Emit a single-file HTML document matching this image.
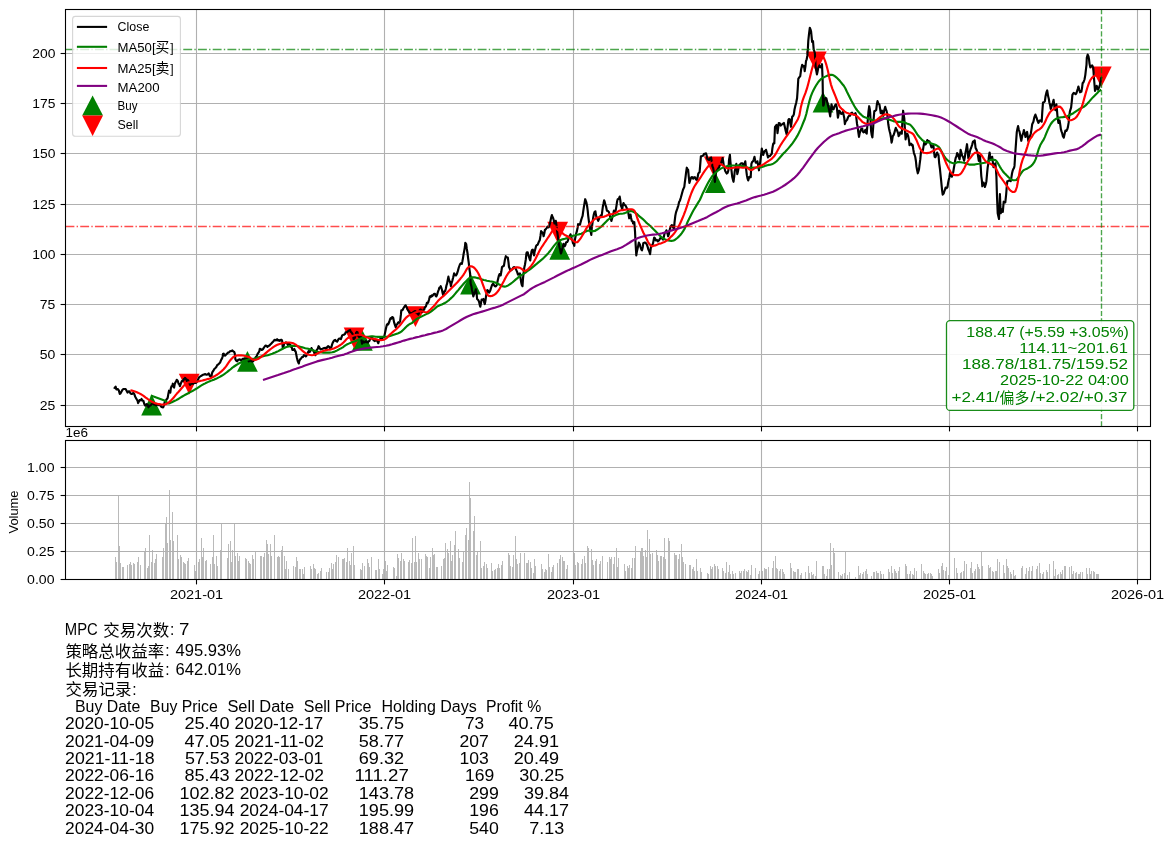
<!DOCTYPE html>
<html><head><meta charset="utf-8"><title>MPC</title><style>html,body{margin:0;padding:0;background:#fff}svg{display:block;will-change:transform;opacity:0.9999}</style></head><body>
<svg width="1174" height="846" viewBox="0 0 1174 846" font-family="'Liberation Sans', sans-serif">
<rect width="1174" height="846" fill="#fff"/>
<defs>
<clipPath id="c1"><rect x="65.5" y="9.5" width="1085.0" height="417.0"/></clipPath>
</defs>
<g stroke="#b0b0b0" stroke-width="1.1" fill="none">
<line x1="196.50" y1="9.5" x2="196.50" y2="426.5"/>
<line x1="384.50" y1="9.5" x2="384.50" y2="426.5"/>
<line x1="573.50" y1="9.5" x2="573.50" y2="426.5"/>
<line x1="761.50" y1="9.5" x2="761.50" y2="426.5"/>
<line x1="949.50" y1="9.5" x2="949.50" y2="426.5"/>
<line x1="1137.50" y1="9.5" x2="1137.50" y2="426.5"/>
<line x1="65.5" y1="405.50" x2="1150.5" y2="405.50"/>
<line x1="65.5" y1="354.50" x2="1150.5" y2="354.50"/>
<line x1="65.5" y1="304.50" x2="1150.5" y2="304.50"/>
<line x1="65.5" y1="254.50" x2="1150.5" y2="254.50"/>
<line x1="65.5" y1="204.50" x2="1150.5" y2="204.50"/>
<line x1="65.5" y1="153.50" x2="1150.5" y2="153.50"/>
<line x1="65.5" y1="103.50" x2="1150.5" y2="103.50"/>
<line x1="65.5" y1="53.50" x2="1150.5" y2="53.50"/>
</g>
<g clip-path="url(#c1)">
<polygon points="151.58,394.59 141.18,415.39 161.98,415.39" fill="#008000"/>
<polygon points="247.43,351.03 237.03,371.83 257.83,371.83" fill="#008000"/>
<polygon points="362.34,329.95 351.94,350.75 372.74,350.75" fill="#008000"/>
<polygon points="470.55,273.82 460.15,294.62 480.95,294.62" fill="#008000"/>
<polygon points="559.70,238.84 549.30,259.64 570.10,259.64" fill="#008000"/>
<polygon points="715.32,172.21 704.92,193.01 725.72,193.01" fill="#008000"/>
<polygon points="823.02,91.77 812.62,112.57 833.42,112.57" fill="#008000"/>
<polygon points="189.20,394.57 178.80,373.77 199.60,373.77" fill="#ff0000"/>
<polygon points="354.10,348.26 343.70,327.46 364.50,327.46" fill="#ff0000"/>
<polygon points="415.42,327.03 405.02,306.23 425.82,306.23" fill="#ff0000"/>
<polygon points="557.64,242.64 547.24,221.84 568.04,221.84" fill="#ff0000"/>
<polygon points="714.29,177.23 703.89,156.43 724.69,156.43" fill="#ff0000"/>
<polygon points="816.32,72.20 805.92,51.40 826.72,51.40" fill="#ff0000"/>
<polygon points="1101.28,87.33 1090.88,66.53 1111.68,66.53" fill="#ff0000"/>
<g fill="none" stroke-width="2.15" stroke-linejoin="round">
<polyline stroke="#000" points="114.1,388.8 114.7,387.8 115.6,386.6 116.4,389.4 117.1,389.4 117.9,389.0 118.9,390.6 119.8,393.9 120.6,393.3 121.7,391.3 122.6,389.6 123.6,389.0 124.7,389.0 125.6,389.0 126.6,390.8 127.5,392.6 128.5,391.3 129.4,391.3 130.4,393.3 131.3,393.9 132.3,393.9 133.2,392.9 134.2,393.8 135.1,396.4 136.2,398.4 137.1,400.0 137.5,400.6 138.1,403.1 138.9,401.5 139.6,400.0 140.6,400.3 141.5,399.0 142.5,400.8 143.4,400.9 144.2,403.7 145.0,405.4 145.8,405.6 146.6,404.1 147.7,404.9 148.5,407.3 149.4,405.8 150.5,405.4 151.6,404.3 152.4,403.5 153.4,403.7 154.3,404.7 155.3,404.8 156.2,405.4 157.1,404.9 158.1,404.1 159.1,405.2 160.0,404.7 161.4,406.9 162.6,407.3 163.3,407.3 163.9,405.4 164.6,402.5 165.2,400.9 165.9,401.2 166.4,399.6 167.2,398.8 167.7,397.7 168.4,393.6 169.0,390.7 169.7,391.8 170.3,392.6 170.8,388.5 171.5,386.2 172.3,385.9 172.8,383.7 173.3,386.2 174.1,387.5 174.7,384.2 175.4,382.4 176.0,381.6 176.7,379.8 177.7,380.8 178.6,383.7 179.2,384.0 179.9,386.2 180.9,383.3 181.8,381.1 182.8,381.1 183.7,379.2 184.3,379.5 185.0,377.9 185.9,378.7 186.9,381.1 187.5,379.8 188.2,380.5 189.0,382.5 190.1,384.9 191.1,383.6 192.0,383.7 193.1,383.8 194.5,382.4 195.8,383.0 197.1,381.7 198.2,379.3 199.0,377.3 200.0,376.7 200.9,376.0 201.9,375.5 202.8,374.7 203.8,374.6 204.8,374.1 205.9,374.4 206.7,374.7 207.6,374.5 208.6,373.4 209.2,374.3 209.9,376.0 210.8,376.7 211.4,377.3 211.9,373.7 212.4,372.2 213.4,370.7 214.3,369.0 215.2,368.2 216.3,367.1 217.3,364.9 218.2,364.5 219.2,363.5 220.1,362.6 220.8,360.7 221.4,359.4 222.1,358.3 222.7,356.2 223.0,354.0 223.7,353.6 224.5,355.5 225.2,355.6 226.1,354.5 227.1,353.6 228.1,352.6 229.0,352.4 230.0,351.3 231.0,351.1 231.6,351.0 232.2,350.4 232.8,350.8 233.5,351.7 234.2,351.7 234.8,353.6 235.4,359.4 236.4,360.8 237.3,361.3 238.2,359.8 239.3,359.4 240.3,359.5 241.2,360.7 242.0,359.6 243.1,358.7 244.1,358.6 245.0,360.0 245.9,359.1 246.9,358.7 248.0,359.9 248.8,361.3 249.5,360.3 250.0,360.7 250.2,360.0 251.4,361.1 252.8,361.5 253.8,360.5 254.7,359.6 255.6,357.3 256.6,356.4 257.6,353.9 258.5,352.6 259.3,351.4 259.8,348.8 260.7,349.0 261.7,350.0 262.8,349.4 263.6,348.1 264.7,346.5 265.6,345.6 266.4,345.8 267.5,346.9 268.5,345.8 269.4,345.6 270.3,344.5 271.3,343.7 272.2,342.5 273.2,341.7 274.3,340.1 275.1,339.8 275.9,340.4 277.1,339.2 278.1,340.6 279.0,340.1 279.9,340.9 280.9,339.8 281.7,339.9 282.2,341.1 282.8,348.1 283.5,346.6 284.1,343.7 285.1,343.1 286.0,342.4 286.9,343.3 287.9,344.9 288.8,343.8 289.8,344.3 290.5,345.2 291.1,346.9 291.8,347.5 292.4,350.0 293.5,349.9 294.3,349.0 295.1,351.0 295.6,351.3 296.3,354.7 296.9,357.7 297.7,361.1 298.8,363.5 299.3,361.1 300.0,359.6 301.1,358.4 302.0,357.1 302.9,357.0 303.9,355.2 304.9,355.5 305.8,356.4 306.4,355.9 307.1,353.9 307.7,353.2 308.4,351.3 308.9,351.0 309.6,352.0 310.6,350.7 311.5,348.1 312.4,350.0 313.5,350.7 314.5,353.5 315.4,355.2 316.1,351.6 316.7,350.0 317.7,348.9 318.6,346.2 319.4,347.4 320.5,349.4 321.4,349.1 322.4,348.8 323.3,348.4 324.3,348.1 325.4,347.8 326.2,349.4 327.1,347.1 328.2,346.2 329.0,346.6 330.1,348.8 331.2,347.6 332.0,344.9 332.5,343.3 333.3,341.7 334.2,340.4 335.2,339.8 336.1,341.1 337.1,341.7 338.1,339.9 339.0,338.5 339.9,338.5 340.9,339.2 341.5,337.4 342.2,335.4 343.2,334.8 344.1,334.7 345.1,333.9 345.6,332.4 346.4,332.2 347.0,332.2 347.7,331.7 348.4,330.9 348.9,330.5 349.6,330.4 350.1,329.9 350.6,331.7 351.3,332.1 351.9,333.0 352.8,334.3 353.6,339.0 354.3,338.7 354.9,337.7 355.5,335.5 356.2,332.6 356.8,331.9 357.5,332.2 358.3,336.0 359.0,337.0 359.6,337.3 360.1,336.7 360.9,336.4 361.5,340.8 362.1,343.7 362.9,342.3 363.4,341.5 364.2,342.5 364.7,342.4 365.3,341.7 366.0,341.1 366.5,342.2 367.3,342.0 367.9,342.5 368.5,341.5 369.3,341.0 369.8,339.8 370.5,338.9 371.1,337.7 371.6,338.1 372.4,338.1 372.9,338.5 373.6,340.3 374.4,339.8 374.9,341.1 375.4,339.9 376.2,340.3 377.0,340.3 377.5,341.5 378.3,343.2 379.2,340.3 379.7,340.1 380.5,338.6 381.0,338.8 381.7,337.7 382.4,338.2 383.0,337.3 383.8,337.0 384.3,336.4 385.1,332.6 386.0,328.3 386.8,324.9 387.6,323.8 388.1,324.5 388.8,323.0 389.4,321.5 390.1,319.0 390.7,318.1 391.4,318.6 392.0,317.3 392.5,317.1 393.2,317.7 394.1,322.4 394.9,324.9 395.8,327.5 396.6,324.5 397.3,324.3 397.9,322.8 398.5,322.2 399.2,322.8 400.1,321.5 400.9,314.7 401.3,310.4 401.9,310.5 402.6,310.0 403.3,308.5 403.9,307.5 404.7,306.2 405.6,305.3 406.2,306.4 406.9,307.9 407.4,309.2 408.1,310.4 408.9,311.3 409.4,312.6 410.1,312.5 410.7,313.9 411.4,313.9 412.0,313.0 412.7,312.6 413.3,312.1 413.9,312.0 414.5,311.3 415.3,311.0 415.8,312.1 416.3,313.1 417.1,313.0 417.9,313.9 418.4,314.7 419.0,313.0 419.6,310.4 420.2,309.6 420.9,309.6 421.5,311.0 422.2,312.1 422.8,310.5 423.5,310.0 424.2,309.6 424.8,307.5 425.3,307.2 426.0,306.2 426.9,302.8 427.5,303.3 428.2,302.4 429.0,299.8 429.9,296.4 430.5,296.1 431.1,296.8 431.7,295.4 432.4,296.0 433.1,294.9 433.7,294.3 434.2,293.8 435.0,293.8 435.6,295.7 436.3,296.4 437.1,294.8 438.1,291.3 438.8,289.6 439.4,287.5 440.0,287.5 440.7,286.2 441.4,288.2 442.0,290.0 442.6,293.0 443.2,295.2 444.0,293.0 444.5,291.3 445.2,291.0 445.8,288.8 446.4,285.7 447.1,283.7 447.6,280.6 448.4,276.6 449.0,279.8 449.6,281.1 450.4,283.1 450.9,286.2 451.5,283.2 452.2,281.1 453.1,277.7 454.1,273.4 455.2,275.2 456.0,275.4 456.9,273.9 457.9,270.9 458.8,267.5 459.9,264.5 460.9,263.3 461.8,263.9 462.3,261.7 463.0,258.1 463.6,254.0 464.3,250.4 464.9,247.0 465.3,242.8 466.2,244.1 466.7,248.2 467.5,253.0 468.1,258.1 468.8,263.2 469.3,268.5 470.1,273.4 470.7,283.7 471.5,286.6 472.0,290.0 472.6,292.5 473.3,296.4 473.8,294.9 474.5,292.6 475.1,291.8 475.8,289.4 476.6,293.4 477.1,299.0 478.2,300.0 479.0,301.5 479.7,304.6 480.3,306.7 480.9,303.5 481.6,299.6 482.6,299.9 483.5,299.0 484.1,302.1 484.8,304.1 485.5,300.6 486.0,296.4 486.7,292.5 487.3,290.0 488.3,291.0 489.2,292.6 490.3,290.4 491.2,287.5 492.1,284.9 493.1,283.7 494.1,285.2 495.0,286.2 495.8,286.4 496.9,284.9 497.6,281.0 498.2,278.5 498.9,275.6 499.5,274.1 500.0,275.2 500.7,275.4 501.4,271.3 502.0,267.1 503.0,266.3 503.9,265.8 504.8,260.3 505.8,256.2 506.7,257.3 507.8,257.5 508.5,262.3 509.0,267.1 509.8,268.7 510.3,270.9 511.2,270.0 512.2,269.6 513.3,267.4 514.2,267.1 515.1,267.8 516.1,269.6 517.1,271.9 518.0,274.7 518.9,273.9 519.9,273.4 520.6,278.5 521.2,282.4 521.8,285.0 522.5,286.2 523.0,278.7 523.7,272.2 524.3,267.6 525.0,264.5 525.8,259.4 526.4,253.5 526.9,252.2 527.7,252.2 528.3,254.9 528.9,256.7 529.7,259.1 530.2,260.5 530.9,255.3 531.5,251.5 532.1,250.0 532.8,249.6 533.4,252.6 534.1,255.4 534.6,251.7 535.3,249.0 536.1,246.1 536.6,245.2 537.7,244.7 538.5,242.6 539.3,241.1 539.8,240.0 540.5,235.7 541.1,231.1 541.8,232.7 542.4,232.4 543.1,233.9 543.6,236.2 544.4,233.0 544.9,229.8 545.6,229.6 546.2,228.5 546.7,228.1 547.5,226.6 548.2,226.9 548.7,227.3 549.4,225.3 550.0,223.4 550.6,220.3 551.3,217.1 551.9,215.1 552.4,216.7 553.2,218.3 553.9,220.8 554.5,223.4 555.2,223.1 555.8,220.9 556.5,225.3 557.1,231.1 557.8,235.8 558.3,240.0 558.8,243.6 559.6,247.7 560.2,249.7 560.9,253.5 561.5,252.1 562.2,249.0 562.7,247.2 563.4,243.9 564.1,244.4 564.7,246.4 565.5,244.7 566.0,242.6 567.1,242.1 567.9,240.7 568.6,238.1 569.2,236.2 569.9,236.1 570.5,234.3 571.2,236.4 571.7,238.8 572.5,241.0 573.0,243.2 573.5,243.6 574.3,245.8 574.8,240.4 575.6,236.2 576.1,233.7 576.9,231.1 577.6,227.7 578.1,224.1 579.1,224.7 580.0,224.7 580.6,222.1 581.3,219.6 582.0,217.5 582.6,215.8 583.1,212.1 583.9,206.8 584.6,202.7 585.2,199.2 585.8,200.8 586.4,202.4 587.1,206.0 587.7,210.7 588.2,215.8 589.0,222.2 589.7,225.9 590.3,231.1 590.8,232.4 591.3,234.9 591.8,227.9 592.6,222.2 593.2,217.7 593.8,214.5 594.5,212.1 595.4,211.3 595.9,214.8 596.7,218.3 597.3,218.7 598.2,220.9 599.0,218.8 599.9,217.1 600.9,215.2 601.8,215.1 602.4,210.1 603.0,205.6 603.4,203.9 604.1,200.4 604.6,201.5 605.3,204.3 606.1,206.8 606.9,210.7 607.9,211.0 608.8,211.9 609.3,213.6 610.1,217.1 610.8,218.5 611.4,220.9 612.1,218.3 612.6,215.8 613.4,212.8 613.9,210.7 614.5,211.2 615.2,212.6 615.9,209.3 616.5,205.6 617.1,201.5 617.7,199.2 618.8,198.8 619.7,196.6 620.3,200.1 620.9,205.6 621.4,206.7 622.2,209.4 622.8,205.3 623.5,203.0 624.0,204.3 624.8,204.9 625.8,205.9 626.7,208.1 627.5,209.3 628.0,210.7 628.7,215.3 629.2,218.3 630.0,215.5 630.5,214.5 631.1,217.9 631.8,220.9 632.6,221.3 633.1,223.4 633.6,223.5 634.3,222.2 635.0,231.1 635.6,243.9 636.3,255.4 636.8,252.0 637.5,249.0 638.1,246.2 638.8,242.6 639.9,244.5 640.7,247.7 641.4,249.5 642.0,250.3 642.8,246.9 643.3,243.2 644.4,242.6 645.2,242.6 646.1,243.3 647.1,245.2 647.8,247.4 648.4,249.6 649.2,251.2 650.1,254.1 651.0,246.4 652.0,245.4 652.9,243.9 653.6,240.5 654.2,237.5 655.0,238.3 655.8,240.5 656.9,239.9 657.9,241.3 659.2,240.1 660.4,237.9 661.8,238.0 663.0,239.6 663.8,236.9 664.7,232.8 665.6,232.3 666.4,230.3 667.4,233.1 668.1,236.2 668.9,234.1 669.4,231.1 670.0,228.7 670.7,226.8 671.2,225.8 671.9,225.1 672.7,225.6 673.2,227.7 674.1,228.6 674.5,222.6 675.3,215.8 676.0,212.4 676.6,210.7 677.4,208.4 678.3,205.6 679.1,202.1 680.0,200.4 680.8,197.8 681.7,194.5 683.0,189.7 684.3,186.9 684.8,182.7 685.6,176.7 686.1,172.3 686.8,167.7 687.4,169.2 688.1,169.6 688.8,176.9 689.4,183.0 690.4,179.5 691.3,177.3 692.2,177.1 693.2,178.6 694.3,177.2 695.1,177.3 696.0,179.5 697.1,179.9 697.6,177.4 698.3,173.5 698.8,172.8 699.6,172.2 700.2,164.9 700.9,156.2 701.9,156.2 702.8,155.6 703.5,155.4 704.1,153.7 705.0,153.7 706.0,153.4 706.6,155.3 707.3,158.8 708.3,159.6 709.2,160.0 710.2,158.2 711.1,157.5 711.8,161.9 712.4,166.4 713.1,167.8 713.7,170.9 714.3,176.3 714.9,181.8 715.4,176.8 716.2,171.5 716.9,170.4 717.5,169.6 718.5,168.2 719.4,166.4 720.3,164.2 721.3,162.6 722.1,160.0 722.6,158.1 723.2,161.5 723.9,166.4 724.4,168.0 725.2,170.9 726.1,172.6 726.7,173.5 727.6,172.8 728.4,170.3 729.0,160.0 729.9,154.9 730.4,161.6 730.9,166.4 731.6,171.4 732.2,176.7 733.0,180.0 733.5,181.8 734.2,176.6 734.7,171.5 735.6,167.5 736.3,163.9 736.9,169.8 737.3,174.1 737.9,171.8 738.6,167.7 739.4,165.0 740.5,163.9 741.5,163.2 742.4,163.2 743.1,165.1 743.7,166.4 744.4,164.4 745.3,161.3 746.0,168.2 746.9,175.4 747.5,178.4 748.2,180.5 748.9,178.1 749.4,176.7 750.0,176.6 750.7,177.3 751.4,163.9 752.2,161.8 753.0,161.3 753.7,159.6 754.5,156.9 755.2,160.7 755.8,162.6 756.7,162.7 757.4,161.3 758.1,165.1 759.0,170.3 759.6,165.7 760.3,161.3 761.1,155.0 761.8,148.5 762.5,152.4 763.2,154.9 763.8,152.9 764.5,151.1 765.4,151.1 766.0,149.8 766.9,153.1 768.0,157.5 769.0,155.9 769.9,156.2 770.7,155.0 771.8,153.7 772.4,148.2 773.1,144.1 773.6,143.2 774.3,143.4 775.0,126.8 775.8,125.8 776.5,124.9 777.2,129.6 777.5,133.2 778.3,127.2 778.8,123.0 779.7,123.3 780.7,125.6 781.5,124.6 782.4,124.3 783.0,123.7 783.9,123.0 784.8,126.8 785.8,131.3 786.7,134.5 787.5,127.8 788.4,119.8 789.0,119.0 789.7,119.2 790.2,122.9 791.0,126.8 791.6,122.1 792.2,116.6 793.2,115.9 793.9,114.1 794.5,109.5 795.2,106.4 796.2,102.8 797.1,98.0 797.7,89.1 798.3,78.9 799.3,77.2 800.2,76.3 801.1,69.6 802.2,64.8 803.2,66.3 804.1,66.1 804.7,71.2 805.5,66.0 806.0,61.0 806.7,59.3 807.3,55.9 807.9,48.4 808.3,40.6 809.0,34.2 809.8,27.8 810.4,29.1 811.1,31.6 811.7,37.7 812.1,41.8 813.0,41.2 813.7,49.5 814.3,51.2 814.9,53.3 815.6,66.1 816.2,70.2 816.9,74.4 817.6,71.4 818.1,68.7 818.9,66.4 819.4,65.5 820.0,66.5 820.7,67.4 821.3,66.5 822.0,64.2 822.6,78.9 822.9,98.0 823.2,105.7 823.5,105.6 824.1,103.2 824.5,99.2 825.5,97.9 826.4,98.5 827.1,101.5 827.7,104.3 828.3,106.4 829.0,109.4 829.7,113.7 830.2,116.4 830.8,110.7 831.5,104.3 832.1,106.9 832.8,109.4 833.6,109.3 834.1,107.5 835.1,105.3 836.0,104.3 836.8,107.5 837.3,111.9 837.9,117.7 838.5,114.8 839.2,110.7 840.1,111.8 841.1,113.9 842.2,113.8 843.0,111.9 843.6,114.9 844.3,118.3 844.9,124.1 845.5,121.7 846.2,120.9 847.1,119.9 848.1,117.1 849.0,115.9 850.0,115.8 850.9,113.3 852.0,112.6 852.9,114.0 853.9,114.5 854.7,114.1 855.4,113.2 856.0,114.8 856.4,118.3 857.0,123.7 857.7,127.3 858.2,131.6 859.0,136.9 859.6,133.5 860.3,131.1 861.2,128.9 862.2,128.5 862.7,131.4 863.5,132.4 864.3,131.9 865.4,129.8 865.9,132.7 866.7,133.7 867.3,126.3 867.9,118.3 868.5,111.4 869.2,106.2 869.8,109.1 870.2,113.2 871.1,131.1 871.7,134.9 872.4,137.5 873.2,127.0 873.7,118.3 874.3,111.3 875.4,110.7 876.2,110.0 876.8,104.8 877.5,101.1 878.4,103.7 879.4,104.3 880.0,108.0 880.7,113.2 881.2,111.2 882.0,110.7 882.6,114.0 883.3,115.8 884.1,110.7 885.2,106.8 886.0,109.7 886.5,110.7 887.2,114.0 887.7,118.3 888.3,124.3 889.0,128.5 889.7,131.5 890.3,133.7 890.9,137.2 891.6,142.6 892.2,139.9 892.8,136.2 893.6,135.1 894.1,133.7 894.9,130.9 895.8,127.9 896.5,129.6 897.3,131.1 898.1,133.1 898.6,136.2 899.4,135.2 900.1,132.4 901.1,132.4 901.8,133.7 902.4,120.9 903.1,110.7 903.8,115.2 904.3,118.3 905.0,131.1 905.6,139.4 906.2,136.1 906.9,133.7 907.5,134.0 908.2,136.2 909.0,140.5 909.5,145.2 910.5,143.7 911.4,143.9 911.9,145.3 912.7,145.2 913.4,150.0 913.9,152.8 914.6,154.8 915.2,156.7 915.9,161.0 916.5,166.9 917.1,170.0 917.8,173.3 918.3,171.6 919.0,169.4 919.6,164.3 920.3,159.2 921.0,151.5 921.9,150.5 922.9,150.3 923.5,146.6 924.2,142.6 924.9,144.4 925.4,144.5 926.5,143.0 927.3,140.0 928.2,141.6 929.3,141.3 930.3,143.6 931.5,147.4 932.5,146.9 933.4,145.4 934.0,151.5 934.7,156.9 935.3,157.2 936.0,155.7 936.6,154.0 937.2,152.5 937.9,154.5 938.5,155.0 939.2,163.3 939.9,168.5 940.4,173.5 941.1,180.2 941.7,186.3 942.1,190.3 942.7,194.6 943.6,193.6 944.3,191.4 944.8,190.2 945.6,187.6 946.5,188.2 947.5,187.0 948.1,182.9 948.7,179.9 949.4,177.2 950.0,172.9 951.0,175.6 951.9,176.7 952.6,174.2 953.2,172.3 953.8,168.5 954.5,164.6 955.1,160.8 955.8,157.6 956.5,156.1 957.1,153.1 957.7,153.7 958.3,155.7 958.9,157.3 959.6,159.5 960.2,154.0 960.6,149.9 961.3,152.4 962.2,155.7 963.1,157.3 964.1,160.8 964.7,157.8 965.4,153.1 966.2,149.1 967.0,144.2 967.8,151.9 968.3,158.2 969.2,154.9 969.8,151.8 970.5,149.2 971.1,148.0 972.2,144.6 973.0,141.6 973.8,141.8 974.7,140.3 975.6,148.0 976.5,149.6 977.5,152.5 978.2,156.8 978.8,160.8 979.3,157.3 980.0,155.7 980.6,164.9 981.3,176.1 981.9,180.6 982.3,186.3 982.9,184.2 983.6,182.5 984.3,184.6 984.9,187.0 985.7,184.4 986.4,181.2 987.1,173.4 987.7,167.2 988.4,163.1 988.7,158.2 989.6,152.5 990.1,155.9 990.9,159.5 991.6,159.2 992.2,156.9 992.7,161.1 993.5,167.2 994.4,165.1 995.4,163.3 996.0,170.4 996.4,176.1 997.0,196.5 997.7,213.2 998.3,215.9 999.0,218.9 999.9,194.0 1000.7,213.2 1001.3,212.0 1001.8,209.3 1002.2,210.4 1002.8,211.9 1003.7,201.7 1004.4,202.3 1005.3,202.3 1006.2,194.0 1006.6,188.5 1007.3,181.2 1008.0,181.0 1008.8,180.6 1009.6,180.4 1010.7,181.2 1011.3,178.1 1012.0,173.5 1012.6,170.9 1013.3,169.1 1014.1,167.8 1014.5,165.9 1015.2,154.4 1016.1,141.6 1016.8,131.9 1017.5,128.4 1018.1,126.1 1018.8,129.8 1019.6,131.9 1020.4,136.4 1021.3,140.8 1022.0,137.3 1022.6,134.4 1023.3,133.0 1023.9,130.0 1024.8,134.0 1025.5,137.0 1026.2,133.6 1027.1,131.9 1027.7,136.0 1028.3,140.8 1028.9,139.6 1029.6,137.0 1030.2,135.7 1030.9,133.2 1031.7,127.9 1032.2,124.2 1032.9,122.7 1033.4,121.7 1034.3,117.5 1035.4,114.6 1035.9,116.2 1036.6,117.8 1037.6,121.1 1038.5,122.9 1039.4,120.8 1040.1,120.4 1040.9,120.8 1041.7,121.7 1042.3,111.6 1043.0,102.5 1043.9,102.2 1044.9,101.2 1045.5,96.6 1046.2,93.5 1046.6,91.8 1047.2,90.4 1048.1,96.1 1048.8,98.8 1049.4,102.5 1050.1,105.1 1050.7,108.9 1051.4,107.2 1052.0,105.0 1052.7,103.0 1053.6,99.9 1054.5,107.6 1055.4,110.2 1055.9,107.4 1056.4,104.4 1057.0,110.7 1057.5,116.5 1058.4,122.9 1059.0,120.8 1059.6,120.4 1060.4,125.6 1060.9,129.3 1061.5,131.4 1062.2,133.2 1062.9,136.2 1063.8,137.6 1064.7,133.6 1065.4,130.6 1066.4,130.9 1067.3,129.3 1067.9,127.1 1068.6,122.9 1069.2,116.5 1069.9,111.4 1070.6,109.2 1071.1,107.6 1071.8,101.4 1072.4,94.8 1072.9,93.9 1073.7,92.9 1074.7,93.5 1075.6,94.2 1076.4,93.3 1077.1,91.0 1077.8,88.7 1078.4,86.5 1079.3,90.0 1080.1,92.3 1080.6,91.1 1081.4,91.6 1082.1,87.6 1082.6,83.3 1083.5,82.2 1084.5,79.5 1085.3,75.1 1085.8,70.6 1086.5,64.8 1086.8,57.8 1087.7,54.6 1088.5,56.4 1089.0,59.1 1089.5,63.6 1090.3,67.4 1091.3,66.1 1092.2,65.4 1092.7,66.5 1093.2,67.4 1094.1,79.5 1095.0,91.0 1095.8,88.8 1096.7,85.9 1097.3,87.6 1098.0,89.7 1098.5,88.5 1099.2,87.2 1099.8,85.1 1100.5,82.1 1101.3,76.9"/>
<polyline stroke="#008000" points="150.8,395.5 165.8,401.0 167.3,403.1 168.8,403.5 170.3,402.9 171.8,402.2 173.3,401.5 174.8,400.8 176.3,400.1 177.8,399.3 179.3,398.3 180.8,397.4 182.3,396.5 183.8,395.6 185.3,394.8 186.8,394.0 188.3,393.2 189.8,392.4 191.3,391.6 192.8,390.8 194.3,389.9 195.8,389.0 197.3,388.1 198.8,387.1 200.3,386.1 201.8,385.2 203.3,384.3 204.8,383.6 206.3,382.8 207.8,382.1 209.3,381.4 210.8,380.8 212.3,380.3 213.8,379.7 215.3,379.0 216.8,378.4 218.3,377.6 219.8,376.9 221.3,376.0 222.8,375.1 224.3,374.1 225.8,373.0 227.3,371.9 228.8,370.7 230.3,369.5 231.8,368.2 233.3,367.0 234.8,366.0 236.3,365.0 237.8,364.1 239.3,363.2 240.8,362.5 242.3,361.7 243.8,361.1 245.3,360.5 246.8,360.0 248.3,359.5 249.8,359.2 251.3,359.0 252.8,358.8 254.3,358.6 255.8,358.2 257.3,357.7 258.8,357.2 260.3,356.8 261.8,356.4 263.3,356.1 264.8,355.8 266.3,355.5 267.8,355.2 269.3,354.7 270.8,354.2 272.3,353.7 273.8,353.1 275.3,352.5 276.8,351.8 278.3,351.1 279.8,350.3 281.3,349.5 282.8,348.7 284.3,347.9 285.8,347.3 287.3,346.8 288.8,346.4 290.3,346.1 291.8,345.9 293.3,345.8 294.8,345.9 296.3,346.0 297.8,346.3 299.3,346.6 300.8,347.0 302.3,347.4 303.8,347.8 305.3,348.2 306.8,348.5 308.3,348.8 309.8,349.3 311.3,349.8 312.8,350.3 314.3,350.8 315.8,351.3 317.3,351.7 318.8,352.1 320.3,352.3 321.8,352.5 323.3,352.6 324.8,352.6 326.3,352.6 327.8,352.6 329.3,352.6 330.8,352.5 332.3,352.3 333.8,351.9 335.3,351.3 336.8,350.6 338.3,349.8 339.8,348.9 341.3,348.2 342.8,347.3 344.3,346.2 345.8,345.1 347.3,344.3 348.8,343.6 350.3,342.9 351.8,342.3 353.3,341.8 354.8,341.3 356.3,340.7 357.8,339.9 359.3,339.1 360.8,338.4 362.3,337.9 363.8,337.5 365.3,337.2 366.8,336.9 368.3,336.7 369.8,336.5 371.3,336.4 372.8,336.4 374.3,336.5 375.8,336.7 377.3,336.8 378.8,336.8 380.3,336.8 381.8,336.8 383.3,336.7 384.8,336.7 386.3,336.7 387.8,336.5 389.3,336.2 390.8,335.7 392.3,335.2 393.8,334.7 395.3,334.2 396.8,333.7 398.3,333.2 399.8,332.5 401.3,331.6 402.8,330.3 404.3,328.8 405.8,327.2 407.3,325.8 408.8,324.6 410.3,323.8 411.8,323.1 413.3,321.8 414.8,320.5 416.3,319.2 417.8,318.3 419.3,317.6 420.8,316.9 422.3,316.1 423.8,315.4 425.3,314.6 426.8,313.9 428.3,313.2 429.8,312.4 431.3,311.4 432.8,310.2 434.3,309.0 435.8,307.6 437.3,306.4 438.8,305.7 440.3,305.1 441.8,304.5 443.3,303.8 444.8,303.0 446.3,302.1 447.8,301.0 449.3,299.8 450.8,298.4 452.3,297.0 453.8,295.4 455.3,293.6 456.8,291.8 458.3,290.1 459.8,288.3 461.3,286.5 462.8,284.8 464.3,283.0 465.8,281.4 467.3,279.9 468.8,278.7 470.3,277.7 471.8,277.4 473.3,277.3 474.8,277.4 476.3,277.7 477.8,278.1 479.3,278.6 480.8,279.1 482.3,279.6 483.8,280.0 485.3,280.3 486.8,280.7 488.3,281.0 489.8,281.3 491.3,281.5 492.8,281.8 494.3,282.3 495.8,282.8 497.3,283.5 498.8,284.3 500.3,285.0 501.8,285.9 503.3,286.4 504.8,286.6 506.3,286.3 507.8,285.6 509.3,284.7 510.8,283.6 512.3,282.5 513.8,281.2 515.3,279.9 516.8,278.7 518.3,277.4 519.8,276.2 521.3,275.2 522.8,274.3 524.3,273.3 525.8,272.3 527.3,271.2 528.8,270.2 530.3,269.1 531.8,267.9 533.3,266.7 534.8,265.4 536.3,264.2 537.8,262.9 539.3,261.7 540.8,260.4 542.3,259.2 543.8,257.8 545.3,256.3 546.8,254.8 548.3,253.1 549.8,251.3 551.3,249.4 552.8,247.4 554.3,245.4 555.8,243.7 557.3,242.1 558.8,241.0 560.3,240.2 561.8,239.5 563.3,239.1 564.8,238.8 566.3,238.4 567.8,237.8 569.3,237.1 570.8,236.5 572.3,236.0 573.8,235.5 575.3,235.2 576.8,234.8 578.3,234.5 579.8,234.1 581.3,233.7 582.8,233.0 584.3,232.1 585.8,231.5 587.3,230.8 588.8,230.5 590.3,230.8 591.8,231.1 593.3,231.1 594.8,231.0 596.3,230.0 597.8,229.2 599.3,228.2 600.8,227.0 602.3,225.6 603.8,224.0 605.3,222.4 606.8,220.9 608.3,219.5 609.8,218.4 611.3,217.5 612.8,216.6 614.3,215.8 615.8,215.1 617.3,214.5 618.8,214.0 620.3,213.8 621.8,213.7 623.3,213.5 624.8,213.1 626.3,212.5 627.8,211.6 629.3,211.2 630.8,211.1 632.3,211.3 633.8,212.0 635.3,212.8 636.8,213.9 638.3,215.3 639.8,216.6 641.3,217.8 642.8,219.1 644.3,220.6 645.8,222.1 647.3,223.5 648.8,224.7 650.3,226.0 651.8,227.4 653.3,229.0 654.8,230.5 656.3,232.1 657.8,233.6 659.3,235.1 660.8,236.5 662.3,237.8 663.8,238.7 665.3,239.4 666.8,239.9 668.3,240.4 669.8,240.8 671.3,240.9 672.8,240.8 674.3,240.3 675.8,239.2 677.3,238.0 678.8,236.6 680.3,235.0 681.8,233.1 683.3,230.9 684.8,228.4 686.3,225.1 687.8,221.5 689.3,218.5 690.8,215.5 692.3,212.5 693.8,209.8 695.3,207.4 696.8,204.9 698.3,202.4 699.8,200.0 701.3,196.7 702.8,193.2 704.3,190.3 705.8,187.2 707.3,184.3 708.8,181.6 710.3,179.1 711.8,176.8 713.3,175.0 714.8,173.6 716.3,172.0 717.8,170.7 719.3,169.6 720.8,168.6 722.3,167.9 723.8,167.2 725.3,166.7 726.8,166.2 728.3,165.9 729.8,165.7 731.3,165.6 732.8,165.5 734.3,165.5 735.8,165.5 737.3,165.6 738.8,165.6 740.3,165.8 741.8,166.0 743.3,166.2 744.8,166.6 746.3,167.2 747.8,167.7 749.3,167.7 750.8,167.7 752.3,167.7 753.8,167.6 755.3,167.5 756.8,167.5 758.3,167.5 759.8,167.5 761.3,167.2 762.8,166.7 764.3,166.2 765.8,165.6 767.3,165.2 768.8,164.9 770.3,164.7 771.8,164.3 773.3,163.6 774.8,162.7 776.3,161.5 777.8,159.9 779.3,158.2 780.8,156.5 782.3,154.7 783.8,153.1 785.3,151.7 786.8,150.1 788.3,148.4 789.8,146.6 791.3,144.8 792.8,142.8 794.3,140.7 795.8,138.4 797.3,135.9 798.8,133.0 800.3,129.9 801.8,126.3 803.3,122.5 804.8,119.0 806.3,114.0 807.8,107.4 809.3,101.5 810.8,96.4 812.3,92.6 813.8,89.5 815.3,86.8 816.8,84.3 818.3,82.0 819.8,80.3 821.3,78.9 822.8,77.9 824.3,77.1 825.8,76.4 827.3,75.7 828.8,75.1 830.3,74.9 831.8,74.8 833.3,75.3 834.8,76.1 836.3,77.3 837.8,78.7 839.3,80.3 840.8,82.1 842.3,84.0 843.8,85.8 845.3,88.3 846.8,91.5 848.3,94.5 849.8,97.5 851.3,100.5 852.8,103.3 854.3,106.0 855.8,108.5 857.3,110.5 858.8,112.3 860.3,113.9 861.8,115.3 863.3,116.6 864.8,117.3 866.3,117.8 867.8,118.3 869.3,118.9 870.8,119.5 872.3,120.0 873.8,120.4 875.3,120.6 876.8,120.3 878.3,119.5 879.8,118.9 881.3,118.5 882.8,118.3 884.3,118.4 885.8,118.7 887.3,119.0 888.8,119.5 890.3,120.0 891.8,120.6 893.3,121.1 894.8,121.5 896.3,121.7 897.8,121.9 899.3,121.9 900.8,121.9 902.3,121.9 903.8,122.2 905.3,122.8 906.8,123.4 908.3,123.9 909.8,124.5 911.3,125.8 912.8,127.7 914.3,129.7 915.8,132.0 917.3,134.3 918.8,136.3 920.3,138.1 921.8,139.6 923.3,140.8 924.8,141.7 926.3,142.1 927.8,142.3 929.3,142.6 930.8,143.2 932.3,143.8 933.8,144.2 935.3,144.8 936.8,145.5 938.3,146.6 939.8,148.2 941.3,151.0 942.8,153.8 944.3,156.3 945.8,158.4 947.3,160.0 948.8,161.2 950.3,162.3 951.8,162.8 953.3,163.2 954.8,163.3 956.3,162.7 957.8,162.1 959.3,162.1 960.8,162.2 962.3,162.5 963.8,162.7 965.3,163.1 966.8,163.6 968.3,164.3 969.8,164.6 971.3,164.6 972.8,164.6 974.3,164.6 975.8,164.3 977.3,164.0 978.8,163.8 980.3,163.5 981.8,163.3 983.3,163.0 984.8,162.8 986.3,162.2 987.8,161.4 989.3,160.6 990.8,159.9 992.3,159.5 993.8,159.7 995.3,160.1 996.8,161.6 998.3,163.9 999.8,166.6 1001.3,169.0 1002.8,171.2 1004.3,173.0 1005.8,174.4 1007.3,175.9 1008.8,177.5 1010.3,178.8 1011.8,179.8 1013.3,180.2 1014.8,180.2 1016.3,180.0 1017.8,178.2 1019.3,176.1 1020.8,173.7 1022.3,171.6 1023.8,170.1 1025.3,169.4 1026.8,168.7 1028.3,167.9 1029.8,166.9 1031.3,165.8 1032.8,164.2 1034.3,162.1 1035.8,158.9 1037.3,153.8 1038.8,148.8 1040.3,145.1 1041.8,142.4 1043.3,140.2 1044.8,137.1 1046.3,133.4 1047.8,129.9 1049.3,126.7 1050.8,124.0 1052.3,122.0 1053.8,120.4 1055.3,119.3 1056.8,118.5 1058.3,117.9 1059.8,117.5 1061.3,117.2 1062.8,117.1 1064.3,116.9 1065.8,116.7 1067.3,116.2 1068.8,115.5 1070.3,114.8 1071.8,114.0 1073.3,113.2 1074.8,112.2 1076.3,111.2 1077.8,110.2 1079.3,109.1 1080.8,108.2 1082.3,107.5 1083.8,106.8 1085.3,105.7 1086.8,104.2 1088.3,102.6 1089.8,100.9 1091.3,99.1 1092.8,97.4 1094.3,95.9 1095.8,94.4 1097.3,92.9 1098.8,91.3 1100.3,90.3 1101.3,89.8"/>
<polyline stroke="#ff0000" points="130.4,390.3 131.9,390.6 133.4,391.0 134.9,391.5 136.4,392.0 137.9,392.7 139.4,393.4 140.9,394.2 142.4,395.1 143.9,396.1 145.4,397.3 146.9,398.4 148.4,399.5 149.9,400.6 151.4,401.5 152.9,402.2 154.4,402.9 155.9,403.4 157.4,403.8 158.9,404.1 160.4,404.4 161.9,404.5 163.4,404.6 164.9,404.4 166.4,403.9 167.9,403.0 169.4,401.9 170.9,400.6 172.4,399.1 173.9,397.3 175.4,395.4 176.9,393.6 178.4,392.0 179.9,390.3 181.4,388.5 182.9,386.8 184.4,385.1 185.9,383.7 187.4,382.8 188.9,382.2 190.4,382.1 191.9,382.0 193.4,381.9 194.9,381.8 196.4,381.7 197.9,381.4 199.4,381.2 200.9,380.8 202.4,380.5 203.9,380.1 205.4,379.7 206.9,379.3 208.4,378.9 209.9,378.4 211.4,377.8 212.9,377.1 214.4,376.3 215.9,375.4 217.4,374.5 218.9,373.4 220.4,372.2 221.9,370.9 223.4,369.5 224.9,367.8 226.4,365.9 227.9,363.6 229.4,361.4 230.9,359.5 232.4,357.9 233.9,356.7 235.4,355.9 236.9,355.5 238.4,355.4 239.9,355.3 241.4,355.4 242.9,355.5 244.4,355.8 245.9,356.2 247.4,356.6 248.9,357.0 250.4,357.8 251.9,359.2 253.4,359.7 254.9,359.9 256.4,359.6 257.9,359.0 259.4,358.2 260.9,357.1 262.4,355.9 263.9,354.7 265.4,353.4 266.9,352.1 268.4,350.8 269.9,349.6 271.4,348.5 272.9,347.4 274.4,346.4 275.9,345.5 277.4,344.8 278.9,344.2 280.4,343.8 281.9,343.4 283.4,343.0 284.9,342.7 286.4,342.6 287.9,342.5 289.4,342.5 290.9,342.7 292.4,343.0 293.9,343.6 295.4,344.4 296.9,345.5 298.4,346.9 299.9,348.4 301.4,349.8 302.9,351.2 304.4,352.3 305.9,353.4 307.4,354.2 308.9,354.7 310.4,355.0 311.9,355.2 313.4,355.0 314.9,354.6 316.4,354.1 317.9,353.3 319.4,352.5 320.9,351.9 322.4,351.3 323.9,350.8 325.4,350.4 326.9,350.0 328.4,349.8 329.9,349.6 331.4,349.2 332.9,348.8 334.4,348.2 335.9,347.5 337.4,346.8 338.9,345.9 340.4,345.0 341.9,343.9 343.4,342.5 344.9,340.9 346.4,339.3 347.9,338.0 349.4,337.0 350.9,336.5 352.4,336.1 353.9,335.6 355.4,335.1 356.9,334.8 358.4,334.7 359.9,334.7 361.4,334.9 362.9,335.5 364.4,336.3 365.9,337.0 367.4,337.6 368.9,338.1 370.4,338.5 371.9,338.7 373.4,338.8 374.9,339.1 376.4,339.4 377.9,339.8 379.4,340.0 380.9,340.1 382.4,340.0 383.9,339.7 385.4,338.9 386.9,337.8 388.4,336.1 389.9,334.6 391.4,333.2 392.9,331.9 394.4,330.7 395.9,329.5 397.4,328.0 398.9,326.5 400.4,324.8 401.9,322.9 403.4,320.9 404.9,319.0 406.4,317.3 407.9,316.1 409.4,315.2 410.9,314.6 412.4,313.9 413.9,313.1 415.4,312.4 416.9,311.9 418.4,311.4 419.9,311.3 421.4,311.3 422.9,311.5 424.4,312.0 425.9,312.2 427.4,312.2 428.9,310.9 430.4,309.5 431.9,308.0 433.4,306.5 434.9,304.9 436.4,302.9 437.9,301.1 439.4,299.5 440.9,298.1 442.4,296.8 443.9,295.6 445.4,294.3 446.9,292.8 448.4,291.3 449.9,289.8 451.4,288.3 452.9,286.8 454.4,285.3 455.9,283.8 457.4,282.2 458.9,280.5 460.4,278.7 461.9,276.8 463.4,274.8 464.9,272.5 466.4,269.7 467.9,267.6 469.4,266.5 470.9,266.2 472.4,266.6 473.9,267.5 475.4,269.1 476.9,271.0 478.4,273.5 479.9,276.7 481.4,280.4 482.9,284.6 484.4,288.7 485.9,292.4 487.4,294.8 488.9,295.9 490.4,296.1 491.9,296.0 493.4,295.3 494.9,294.4 496.4,293.1 497.9,291.3 499.4,289.1 500.9,286.4 502.4,283.8 503.9,281.1 505.4,278.1 506.9,275.3 508.4,273.0 509.9,271.2 511.4,269.8 512.9,268.7 514.4,268.0 515.9,267.4 517.4,267.3 518.9,267.6 520.4,268.1 521.9,269.0 523.4,270.6 524.9,271.1 526.4,270.3 527.9,269.3 529.4,267.8 530.9,266.1 532.4,264.2 533.9,261.8 535.4,259.1 536.9,256.1 538.4,253.0 539.9,250.0 541.4,247.5 542.9,245.3 544.4,243.0 545.9,240.8 547.4,238.5 548.9,236.3 550.4,234.0 551.9,231.7 553.4,229.6 554.9,228.0 556.4,228.7 557.9,229.8 559.4,231.0 560.9,232.1 562.4,233.2 563.9,234.4 565.4,235.3 566.9,236.0 568.4,237.0 569.9,238.2 571.4,239.3 572.9,240.5 574.4,241.7 575.9,242.2 577.4,242.2 578.9,240.6 580.4,238.7 581.9,236.3 583.4,233.7 584.9,231.1 586.4,228.3 587.9,226.1 589.4,224.3 590.9,222.8 592.4,221.3 593.9,219.7 595.4,218.6 596.9,217.8 598.4,217.3 599.9,217.1 601.4,217.1 602.9,217.0 604.4,216.6 605.9,216.0 607.4,215.2 608.9,214.6 610.4,214.2 611.9,214.0 613.4,213.7 614.9,213.3 616.4,212.5 617.9,211.6 619.4,210.7 620.9,210.3 622.4,210.1 623.9,209.9 625.4,209.8 626.9,209.5 628.4,209.3 629.9,209.2 631.4,209.2 632.9,209.6 634.4,210.6 635.9,213.7 637.4,218.5 638.9,222.4 640.4,225.9 641.9,229.4 643.4,232.7 644.9,235.6 646.4,238.6 647.9,241.7 649.4,244.1 650.9,245.7 652.4,246.4 653.9,245.6 655.4,245.4 656.9,244.8 658.4,244.1 659.9,243.6 661.4,243.2 662.9,242.6 664.4,242.0 665.9,241.1 667.4,240.2 668.9,238.9 670.4,237.3 671.9,235.9 673.4,234.3 674.9,232.3 676.4,230.2 677.9,228.0 679.4,225.1 680.9,221.7 682.4,218.3 683.9,214.6 685.4,210.6 686.9,206.3 688.4,201.7 689.9,197.2 691.4,193.0 692.9,189.5 694.4,186.5 695.9,184.1 697.4,181.9 698.9,179.8 700.4,177.7 701.9,175.3 703.4,172.9 704.9,170.7 706.4,168.7 707.9,166.7 709.4,164.9 710.9,163.4 712.4,162.6 713.9,162.1 715.4,162.0 716.9,162.4 718.4,163.1 719.9,163.8 721.4,164.5 722.9,165.4 724.4,166.5 725.9,167.6 727.4,168.3 728.9,168.3 730.4,168.2 731.9,168.1 733.4,167.8 734.9,167.5 736.4,167.4 737.9,167.3 739.4,167.3 740.9,167.5 742.4,167.7 743.9,167.7 745.4,167.5 746.9,167.3 748.4,168.7 749.9,169.8 751.4,170.0 752.9,169.4 754.4,168.4 755.9,167.6 757.4,166.9 758.9,166.2 760.4,165.8 761.9,165.3 763.4,164.5 764.9,163.4 766.4,162.4 767.9,161.4 769.4,160.4 770.9,159.3 772.4,158.1 773.9,156.6 775.4,154.4 776.9,151.7 778.4,149.0 779.9,146.3 781.4,143.8 782.9,141.5 784.4,139.3 785.9,137.2 787.4,135.1 788.9,133.0 790.4,130.9 791.9,128.9 793.4,126.7 794.9,124.3 796.4,121.8 797.9,119.2 799.4,115.4 800.9,106.9 802.4,101.2 803.9,96.8 805.4,93.2 806.9,88.7 808.4,83.2 809.9,77.3 811.4,71.3 812.9,65.8 814.4,61.8 815.9,58.9 817.4,56.8 818.9,55.4 820.4,55.3 821.9,55.6 823.4,56.8 824.9,60.3 826.4,64.9 827.9,70.7 829.4,77.9 830.9,84.3 832.4,88.9 833.9,92.5 835.4,96.2 836.9,100.0 838.4,104.0 839.9,107.1 841.4,108.6 842.9,109.9 844.4,111.3 845.9,112.4 847.4,113.1 848.9,113.6 850.4,113.9 851.9,114.2 853.4,114.4 854.9,114.9 856.4,115.8 857.9,117.1 859.4,118.7 860.9,120.3 862.4,121.9 863.9,122.8 865.4,123.4 866.9,123.9 868.4,124.0 869.9,123.6 871.4,123.0 872.9,122.3 874.4,121.6 875.9,120.7 877.4,119.4 878.9,118.1 880.4,116.9 881.9,115.9 883.4,115.1 884.9,114.5 886.4,114.2 887.9,114.5 889.4,115.0 890.9,115.9 892.4,117.2 893.9,118.9 895.4,120.9 896.9,123.4 898.4,125.8 899.9,127.2 901.4,128.3 902.9,129.0 904.4,129.6 905.9,130.3 907.4,131.0 908.9,131.8 910.4,132.4 911.9,133.2 913.4,134.4 914.9,136.9 916.4,139.9 917.9,143.6 919.4,147.2 920.9,150.0 922.4,151.7 923.9,152.8 925.4,153.0 926.9,153.1 928.4,152.9 929.9,152.4 931.4,151.8 932.9,151.1 934.4,150.2 935.9,149.3 937.4,148.6 938.9,148.5 940.4,150.2 941.9,152.7 943.4,156.4 944.9,160.2 946.4,163.8 947.9,166.9 949.4,169.7 950.9,172.4 952.4,174.0 953.9,175.0 955.4,175.1 956.9,175.1 958.4,175.1 959.9,174.4 961.4,173.0 962.9,170.6 964.4,167.9 965.9,164.8 967.4,162.0 968.9,159.6 970.4,157.8 971.9,155.8 973.4,154.0 974.9,152.9 976.4,152.5 977.9,152.6 979.4,153.0 980.9,154.5 982.4,156.5 983.9,158.9 985.4,161.0 986.9,162.3 988.4,162.9 989.9,163.5 991.4,164.3 992.9,165.3 994.4,166.6 995.9,168.3 997.4,171.5 998.9,174.7 1000.4,176.9 1001.9,178.9 1003.4,181.0 1004.9,183.1 1006.4,185.2 1007.9,187.3 1009.4,189.4 1010.9,190.9 1012.4,191.9 1013.9,192.0 1015.4,191.2 1016.9,187.0 1018.4,178.7 1019.9,170.3 1021.4,163.6 1022.9,158.8 1024.4,155.3 1025.9,151.1 1027.4,146.5 1028.9,141.3 1030.4,138.6 1031.9,136.8 1033.4,134.1 1034.9,132.4 1036.4,131.2 1037.9,130.2 1039.4,129.3 1040.9,128.2 1042.4,126.5 1043.9,124.2 1045.4,121.3 1046.9,117.7 1048.4,114.9 1049.9,112.4 1051.4,110.7 1052.9,109.6 1054.4,108.5 1055.9,107.5 1057.4,106.9 1058.9,106.6 1060.4,106.9 1061.9,108.5 1063.4,111.1 1064.9,114.3 1066.4,117.2 1067.9,119.1 1069.4,120.3 1070.9,120.2 1072.4,119.7 1073.9,119.1 1075.4,118.0 1076.9,116.4 1078.4,114.0 1079.9,111.2 1081.4,107.8 1082.9,103.4 1084.4,97.9 1085.9,92.5 1087.4,87.5 1088.9,83.1 1090.4,80.0 1091.9,77.9 1093.4,76.6 1094.9,75.7 1096.4,75.7 1097.9,75.7 1099.4,75.7 1100.9,76.2 1101.3,76.3"/>
<polyline stroke="#800080" points="263.0,380.1 266.0,379.1 269.0,378.1 272.0,377.1 275.0,376.1 278.0,375.1 281.0,374.0 284.0,373.0 287.0,371.9 290.0,370.9 293.0,369.8 296.0,368.8 299.0,367.7 302.0,366.7 305.0,365.6 308.0,364.5 311.0,363.4 314.0,362.4 317.0,361.4 320.0,360.6 323.0,359.9 326.0,359.2 329.0,358.5 332.0,357.7 335.0,356.8 338.0,356.0 341.0,355.2 344.0,354.6 347.0,353.6 350.0,352.3 353.0,351.2 356.0,350.3 359.0,349.5 362.0,348.9 365.0,348.4 368.0,348.0 371.0,347.6 374.0,347.3 377.0,347.0 380.0,346.7 383.0,346.3 386.0,345.8 389.0,345.1 392.0,344.3 395.0,343.4 398.0,342.5 401.0,341.6 404.0,340.6 407.0,339.7 410.0,338.9 413.0,338.2 416.0,337.4 419.0,336.7 422.0,335.9 425.0,335.2 428.0,334.4 431.0,333.7 434.0,332.9 437.0,332.2 440.0,331.4 443.0,330.4 446.0,329.0 449.0,327.2 452.0,325.4 455.0,323.6 458.0,321.8 461.0,320.0 464.0,318.3 467.0,316.7 470.0,315.4 473.0,314.3 476.0,313.4 479.0,312.5 482.0,311.6 485.0,310.7 488.0,309.8 491.0,308.8 494.0,307.9 497.0,306.9 500.0,305.9 503.0,304.7 506.0,303.1 509.0,301.6 512.0,300.1 515.0,298.6 518.0,297.1 521.0,295.6 524.0,294.2 527.0,291.8 530.0,289.5 533.0,287.6 536.0,286.0 539.0,284.6 542.0,283.2 545.0,281.9 548.0,280.4 551.0,278.9 554.0,277.4 557.0,275.8 560.0,274.3 563.0,272.8 566.0,271.3 569.0,269.9 572.0,268.6 575.0,267.3 578.0,265.9 581.0,264.5 584.0,263.0 587.0,261.5 590.0,259.9 593.0,258.5 596.0,257.3 599.0,256.1 602.0,254.9 605.0,253.7 608.0,252.5 611.0,251.3 614.0,250.2 617.0,249.2 620.0,248.1 623.0,246.7 626.0,244.9 629.0,243.0 632.0,241.0 635.0,239.4 638.0,238.1 641.0,237.0 644.0,236.2 647.0,235.5 650.0,235.0 653.0,234.6 656.0,234.5 659.0,234.0 662.0,233.3 665.0,232.5 668.0,231.6 671.0,230.6 674.0,229.7 677.0,228.9 680.0,228.0 683.0,227.0 686.0,226.0 689.0,224.8 692.0,223.5 695.0,222.2 698.0,221.0 701.0,219.7 704.0,218.5 707.0,217.2 710.0,215.4 713.0,213.8 716.0,212.3 719.0,210.6 722.0,208.8 725.0,207.3 728.0,206.0 731.0,205.0 734.0,204.2 737.0,203.5 740.0,202.6 743.0,201.5 746.0,200.4 749.0,199.2 752.0,198.1 755.0,197.1 758.0,196.2 761.0,195.5 764.0,194.7 767.0,193.8 770.0,192.8 773.0,191.8 776.0,190.3 779.0,188.6 782.0,186.9 785.0,185.0 788.0,182.9 791.0,180.7 794.0,178.2 797.0,175.2 800.0,171.7 803.0,167.8 806.0,163.7 809.0,159.4 812.0,155.4 815.0,151.3 818.0,147.7 821.0,144.8 824.0,141.8 827.0,139.2 830.0,136.9 833.0,135.2 836.0,134.3 839.0,133.2 842.0,132.0 845.0,130.9 848.0,130.0 851.0,129.3 854.0,128.5 857.0,127.8 860.0,127.0 863.0,126.3 866.0,125.5 869.0,124.8 872.0,124.0 875.0,122.8 878.0,121.4 881.0,120.0 884.0,118.8 887.0,117.7 890.0,116.9 893.0,116.2 896.0,115.4 899.0,114.8 902.0,114.3 905.0,113.9 908.0,113.6 911.0,113.5 914.0,113.5 917.0,113.5 920.0,113.6 923.0,113.9 926.0,114.2 929.0,114.7 932.0,115.3 935.0,115.9 938.0,116.5 941.0,117.5 944.0,118.9 947.0,120.5 950.0,122.2 953.0,124.1 956.0,126.0 959.0,128.0 962.0,129.9 965.0,131.8 968.0,133.7 971.0,134.9 974.0,136.0 977.0,137.1 980.0,138.4 983.0,139.9 986.0,141.2 989.0,142.2 992.0,143.3 995.0,144.6 998.0,146.1 1001.0,147.8 1004.0,149.8 1007.0,151.0 1010.0,152.0 1013.0,153.0 1016.0,153.6 1019.0,154.0 1022.0,154.4 1025.0,154.7 1028.0,155.1 1031.0,155.4 1034.0,155.6 1037.0,155.7 1040.0,155.7 1043.0,155.4 1046.0,154.9 1049.0,154.4 1052.0,153.9 1055.0,153.4 1058.0,153.0 1061.0,152.7 1064.0,152.2 1067.0,151.5 1070.0,150.6 1073.0,150.0 1076.0,149.4 1079.0,148.2 1082.0,146.4 1085.0,144.2 1088.0,141.7 1091.0,139.7 1094.0,137.7 1097.0,135.8 1100.0,134.9 1101.3,134.7"/>
</g>
<line x1="65.5" x2="1150.5" y1="226.50" y2="226.50" stroke="#ff0000" stroke-opacity="0.7" stroke-width="1.39" stroke-dasharray="8.89 2.22 1.39 2.22"/>
<line x1="65.5" x2="1150.5" y1="49.50" y2="49.50" stroke="#008000" stroke-opacity="0.7" stroke-width="1.39" stroke-dasharray="8.89 2.22 1.39 2.22"/>
<line x1="1101.5" x2="1101.5" y1="426.5" y2="9.5" stroke="#008000" stroke-opacity="0.7" stroke-width="1.39" stroke-dasharray="5.14 2.22"/>
</g>
<rect x="65.5" y="9.5" width="1085.0" height="417.0" fill="none" stroke="#000" stroke-width="1.1"/>
<g stroke="#000" stroke-width="1.1">
<line x1="60.6" x2="65.5" y1="405.50" y2="405.50"/>
<line x1="60.6" x2="65.5" y1="354.50" y2="354.50"/>
<line x1="60.6" x2="65.5" y1="304.50" y2="304.50"/>
<line x1="60.6" x2="65.5" y1="254.50" y2="254.50"/>
<line x1="60.6" x2="65.5" y1="204.50" y2="204.50"/>
<line x1="60.6" x2="65.5" y1="153.50" y2="153.50"/>
<line x1="60.6" x2="65.5" y1="103.50" y2="103.50"/>
<line x1="60.6" x2="65.5" y1="53.50" y2="53.50"/>
<line x1="196.50" x2="196.50" y1="426.5" y2="431.4"/>
<line x1="384.50" x2="384.50" y1="426.5" y2="431.4"/>
<line x1="573.50" x2="573.50" y1="426.5" y2="431.4"/>
<line x1="761.50" x2="761.50" y1="426.5" y2="431.4"/>
<line x1="949.50" x2="949.50" y1="426.5" y2="431.4"/>
<line x1="1137.50" x2="1137.50" y1="426.5" y2="431.4"/>
</g>
<text x="55.40" y="409.95" font-size="12.6" text-anchor="end" fill="#000" textLength="15.60" lengthAdjust="spacingAndGlyphs">25</text>
<text x="55.40" y="358.95" font-size="12.6" text-anchor="end" fill="#000" textLength="15.60" lengthAdjust="spacingAndGlyphs">50</text>
<text x="55.40" y="308.95" font-size="12.6" text-anchor="end" fill="#000" textLength="15.60" lengthAdjust="spacingAndGlyphs">75</text>
<text x="55.40" y="258.95" font-size="12.6" text-anchor="end" fill="#000" textLength="23.10" lengthAdjust="spacingAndGlyphs">100</text>
<text x="55.40" y="208.95" font-size="12.6" text-anchor="end" fill="#000" textLength="23.10" lengthAdjust="spacingAndGlyphs">125</text>
<text x="55.40" y="157.95" font-size="12.6" text-anchor="end" fill="#000" textLength="23.10" lengthAdjust="spacingAndGlyphs">150</text>
<text x="55.40" y="107.95" font-size="12.6" text-anchor="end" fill="#000" textLength="23.10" lengthAdjust="spacingAndGlyphs">175</text>
<text x="55.40" y="57.95" font-size="12.6" text-anchor="end" fill="#000" textLength="23.10" lengthAdjust="spacingAndGlyphs">200</text>
<rect x="72.6" y="16.4" width="107.80000000000001" height="119.79999999999998" rx="2.8" fill="#fff" fill-opacity="0.8" stroke="#ccc" stroke-opacity="0.8" stroke-width="1.1"/>
<line x1="76.9" x2="107.1" y1="26.9" y2="26.9" stroke="#000" stroke-width="2.08"/>
<line x1="76.9" x2="107.1" y1="46.8" y2="46.8" stroke="#008000" stroke-width="2.08"/>
<line x1="76.9" x2="107.1" y1="68.0" y2="68.0" stroke="#ff0000" stroke-width="2.08"/>
<line x1="76.9" x2="107.1" y1="85.9" y2="85.9" stroke="#800080" stroke-width="2.08"/>
<polygon points="92.6,95.5 82.2,115.4 103,115.4" fill="#008000"/>
<polygon points="92.6,136 82.2,115.4 103,115.4" fill="#ff0000"/>
<text x="117.60" y="31.40" font-size="12" text-anchor="start" fill="#000" textLength="31.70" lengthAdjust="spacingAndGlyphs">Close</text>
<text x="117.60" y="51.60" font-size="12" text-anchor="start" fill="#000" textLength="38.00" lengthAdjust="spacingAndGlyphs">MA50[</text>
<text x="155.50" y="51.50" font-size="13.9" text-anchor="start" fill="#000" font-family="'Liberation Sans', 'Noto Sans CJK SC', sans-serif">买</text>
<text x="170.30" y="51.60" font-size="12" text-anchor="start" fill="#000">]</text>
<text x="117.60" y="72.80" font-size="12" text-anchor="start" fill="#000" textLength="38.00" lengthAdjust="spacingAndGlyphs">MA25[</text>
<text x="155.50" y="72.70" font-size="13.9" text-anchor="start" fill="#000" font-family="'Liberation Sans', 'Noto Sans CJK SC', sans-serif">卖</text>
<text x="170.30" y="72.80" font-size="12" text-anchor="start" fill="#000">]</text>
<text x="117.60" y="91.50" font-size="12" text-anchor="start" fill="#000" textLength="41.90" lengthAdjust="spacingAndGlyphs">MA200</text>
<text x="117.60" y="109.60" font-size="12" text-anchor="start" fill="#000" textLength="19.90" lengthAdjust="spacingAndGlyphs">Buy</text>
<text x="117.60" y="128.60" font-size="12" text-anchor="start" fill="#000" textLength="20.70" lengthAdjust="spacingAndGlyphs">Sell</text>
<rect x="946.5" y="320.6" width="187.29999999999995" height="89.79999999999995" rx="3.5" fill="#fff" fill-opacity="0.9" stroke="#008000" stroke-opacity="0.9" stroke-width="1.3"/>
<text x="1128.90" y="336.70" font-size="15.2" text-anchor="end" fill="#008000" textLength="162.60" lengthAdjust="spacingAndGlyphs">188.47 (+5.59 +3.05%)</text>
<text x="1128.10" y="352.60" font-size="15.2" text-anchor="end" fill="#008000" textLength="108.80" lengthAdjust="spacingAndGlyphs">114.11~201.61</text>
<text x="1128.10" y="368.70" font-size="15.2" text-anchor="end" fill="#008000" textLength="166.20" lengthAdjust="spacingAndGlyphs">188.78/181.75/159.52</text>
<text x="1128.70" y="384.70" font-size="15.2" text-anchor="end" fill="#008000" textLength="128.60" lengthAdjust="spacingAndGlyphs">2025-10-22 04:00</text>
<text x="951.60" y="402.40" font-size="15.2" text-anchor="start" fill="#008000" textLength="47.80" lengthAdjust="spacingAndGlyphs">+2.41/</text>
<text x="999.60" y="403.00" font-size="15" text-anchor="start" fill="#008000" font-family="'Liberation Sans', 'Noto Sans CJK SC', sans-serif" textLength="29.70" lengthAdjust="spacingAndGlyphs">偏多</text>
<text x="1127.40" y="402.40" font-size="15.2" text-anchor="end" fill="#008000" textLength="96.80" lengthAdjust="spacingAndGlyphs">/+2.02/+0.37</text>
<g stroke="#b0b0b0" stroke-width="1.1" fill="none">
</g>
<path d="M115 579.5V557.1h1V579.5zM116 579.5V561.6h1V579.5zM118 579.5V495.5h1V579.5zM119 579.5V545.9h1V579.5zM120 579.5V562.7h1V579.5zM122 579.5V567.2h1V579.5zM123 579.5V567.2h1V579.5zM127 579.5V564.9h1V579.5zM129 579.5V563.8h1V579.5zM130 579.5V561.6h1V579.5zM131 579.5V564.9h1V579.5zM133 579.5V562.7h1V579.5zM134 579.5V563.8h1V579.5zM137 579.5V561.6h1V579.5zM138 579.5V557.1h1V579.5zM140 579.5V564.9h1V579.5zM144 579.5V551.5h1V579.5zM145 579.5V548.1h1V579.5zM147 579.5V568.3h1V579.5zM148 579.5V566.1h1V579.5zM149 579.5V534.7h1V579.5zM151 579.5V561.6h1V579.5zM152 579.5V550.4h1V579.5zM154 579.5V562.7h1V579.5zM155 579.5V559.3h1V579.5zM156 579.5V553.7h1V579.5zM162 579.5V557.1h1V579.5zM163 579.5V548.1h1V579.5zM165 579.5V523.5h1V579.5zM166 579.5V516.8h1V579.5zM167 579.5V542.5h1V579.5zM169 579.5V489.9h1V579.5zM170 579.5V540.3h1V579.5zM172 579.5V512.3h1V579.5zM173 579.5V541.4h1V579.5zM177 579.5V534.7h1V579.5zM178 579.5V559.3h1V579.5zM180 579.5V554.9h1V579.5zM181 579.5V557.1h1V579.5zM183 579.5V561.6h1V579.5zM184 579.5V562.7h1V579.5zM185 579.5V563.8h1V579.5zM187 579.5V560.5h1V579.5zM188 579.5V558.2h1V579.5zM194 579.5V564.9h1V579.5zM195 579.5V570.5h1V579.5zM198 579.5V561.6h1V579.5zM199 579.5V559.3h1V579.5zM201 579.5V538.1h1V579.5zM202 579.5V557.1h1V579.5zM203 579.5V548.1h1V579.5zM205 579.5V560.5h1V579.5zM206 579.5V559.8h1V579.5zM210 579.5V563.8h1V579.5zM212 579.5V557.1h1V579.5zM213 579.5V534.7h1V579.5zM214 579.5V563.8h1V579.5zM216 579.5V556.0h1V579.5zM217 579.5V566.1h1V579.5zM220 579.5V550.4h1V579.5zM221 579.5V523.5h1V579.5zM227 579.5V558.2h1V579.5zM228 579.5V543.7h1V579.5zM230 579.5V541.4h1V579.5zM231 579.5V561.6h1V579.5zM232 579.5V550.4h1V579.5zM234 579.5V523.5h1V579.5zM235 579.5V556.0h1V579.5zM237 579.5V552.6h1V579.5zM238 579.5V560.5h1V579.5zM239 579.5V556.2h1V579.5zM245 579.5V558.2h1V579.5zM246 579.5V559.3h1V579.5zM248 579.5V560.5h1V579.5zM249 579.5V562.7h1V579.5zM250 579.5V563.8h1V579.5zM252 579.5V554.9h1V579.5zM253 579.5V559.3h1V579.5zM255 579.5V551.5h1V579.5zM260 579.5V556.0h1V579.5zM261 579.5V556.0h1V579.5zM263 579.5V557.1h1V579.5zM264 579.5V553.1h1V579.5zM266 579.5V540.3h1V579.5zM267 579.5V543.7h1V579.5zM268 579.5V553.7h1V579.5zM270 579.5V543.7h1V579.5zM271 579.5V556.0h1V579.5zM274 579.5V534.7h1V579.5zM277 579.5V557.1h1V579.5zM278 579.5V556.2h1V579.5zM279 579.5V557.1h1V579.5zM281 579.5V550.4h1V579.5zM282 579.5V545.9h1V579.5zM284 579.5V556.0h1V579.5zM285 579.5V569.4h1V579.5zM286 579.5V560.5h1V579.5zM288 579.5V569.4h1V579.5zM293 579.5V566.4h1V579.5zM295 579.5V567.2h1V579.5zM296 579.5V557.1h1V579.5zM297 579.5V560.5h1V579.5zM299 579.5V569.4h1V579.5zM300 579.5V569.4h1V579.5zM302 579.5V569.4h1V579.5zM303 579.5V573.9h1V579.5zM304 579.5V567.2h1V579.5zM310 579.5V566.4h1V579.5zM311 579.5V569.1h1V579.5zM313 579.5V563.8h1V579.5zM314 579.5V568.3h1V579.5zM315 579.5V569.4h1V579.5zM317 579.5V573.9h1V579.5zM318 579.5V572.8h1V579.5zM320 579.5V570.5h1V579.5zM321 579.5V568.3h1V579.5zM326 579.5V571.7h1V579.5zM328 579.5V571.7h1V579.5zM329 579.5V568.3h1V579.5zM331 579.5V562.7h1V579.5zM332 579.5V569.4h1V579.5zM333 579.5V563.8h1V579.5zM335 579.5V561.6h1V579.5zM336 579.5V554.9h1V579.5zM338 579.5V557.1h1V579.5zM342 579.5V559.3h1V579.5zM343 579.5V559.2h1V579.5zM344 579.5V557.9h1V579.5zM346 579.5V561.6h1V579.5zM347 579.5V548.1h1V579.5zM349 579.5V560.5h1V579.5zM350 579.5V564.9h1V579.5zM351 579.5V552.6h1V579.5zM353 579.5V545.9h1V579.5zM354 579.5V564.9h1V579.5zM360 579.5V569.4h1V579.5zM361 579.5V569.6h1V579.5zM362 579.5V562.7h1V579.5zM364 579.5V566.1h1V579.5zM367 579.5V559.3h1V579.5zM368 579.5V562.7h1V579.5zM369 579.5V567.1h1V579.5zM371 579.5V557.1h1V579.5zM375 579.5V569.6h1V579.5zM376 579.5V569.8h1V579.5zM378 579.5V559.3h1V579.5zM379 579.5V569.4h1V579.5zM382 579.5V573.9h1V579.5zM383 579.5V569.4h1V579.5zM385 579.5V560.5h1V579.5zM386 579.5V570.5h1V579.5zM387 579.5V564.9h1V579.5zM393 579.5V566.9h1V579.5zM394 579.5V567.5h1V579.5zM396 579.5V576.1h1V579.5zM397 579.5V553.7h1V579.5zM398 579.5V558.2h1V579.5zM400 579.5V560.5h1V579.5zM401 579.5V552.6h1V579.5zM403 579.5V559.3h1V579.5zM404 579.5V560.5h1V579.5zM408 579.5V561.6h1V579.5zM409 579.5V559.9h1V579.5zM411 579.5V562.7h1V579.5zM412 579.5V538.1h1V579.5zM414 579.5V561.6h1V579.5zM415 579.5V535.8h1V579.5zM416 579.5V561.6h1V579.5zM418 579.5V552.6h1V579.5zM419 579.5V559.3h1V579.5zM421 579.5V559.3h1V579.5zM425 579.5V553.7h1V579.5zM426 579.5V556.4h1V579.5zM427 579.5V556.9h1V579.5zM429 579.5V568.3h1V579.5zM430 579.5V557.1h1V579.5zM432 579.5V548.1h1V579.5zM433 579.5V554.9h1V579.5zM434 579.5V553.7h1V579.5zM436 579.5V567.2h1V579.5zM437 579.5V567.2h1V579.5zM441 579.5V566.1h1V579.5zM443 579.5V559.4h1V579.5zM444 579.5V558.2h1V579.5zM445 579.5V542.5h1V579.5zM447 579.5V549.3h1V579.5zM448 579.5V552.6h1V579.5zM450 579.5V541.4h1V579.5zM451 579.5V560.5h1V579.5zM452 579.5V554.7h1V579.5zM454 579.5V544.8h1V579.5zM455 579.5V531.3h1V579.5zM458 579.5V549.3h1V579.5zM459 579.5V558.2h1V579.5zM462 579.5V561.6h1V579.5zM463 579.5V551.5h1V579.5zM465 579.5V534.7h1V579.5zM466 579.5V528.0h1V579.5zM468 579.5V540.3h1V579.5zM469 579.5V482.1h1V579.5zM470 579.5V497.7h1V579.5zM473 579.5V531.3h1V579.5zM474 579.5V515.7h1V579.5zM476 579.5V554.9h1V579.5zM477 579.5V550.9h1V579.5zM480 579.5V541.4h1V579.5zM481 579.5V568.3h1V579.5zM483 579.5V566.1h1V579.5zM484 579.5V561.6h1V579.5zM486 579.5V563.8h1V579.5zM487 579.5V568.3h1V579.5zM491 579.5V562.7h1V579.5zM492 579.5V570.6h1V579.5zM494 579.5V569.9h1V579.5zM495 579.5V569.2h1V579.5zM497 579.5V568.3h1V579.5zM498 579.5V563.8h1V579.5zM499 579.5V568.3h1V579.5zM501 579.5V564.9h1V579.5zM502 579.5V560.5h1V579.5zM508 579.5V552.6h1V579.5zM509 579.5V554.9h1V579.5zM510 579.5V566.1h1V579.5zM512 579.5V567.2h1V579.5zM513 579.5V554.9h1V579.5zM515 579.5V535.8h1V579.5zM516 579.5V559.3h1V579.5zM517 579.5V563.6h1V579.5zM519 579.5V562.7h1V579.5zM520 579.5V552.6h1V579.5zM524 579.5V552.6h1V579.5zM526 579.5V562.6h1V579.5zM527 579.5V562.8h1V579.5zM528 579.5V559.8h1V579.5zM530 579.5V561.6h1V579.5zM531 579.5V568.3h1V579.5zM533 579.5V572.8h1V579.5zM534 579.5V559.3h1V579.5zM535 579.5V566.1h1V579.5zM541 579.5V563.8h1V579.5zM542 579.5V569.4h1V579.5zM544 579.5V571.7h1V579.5zM545 579.5V569.4h1V579.5zM546 579.5V570.4h1V579.5zM548 579.5V553.7h1V579.5zM549 579.5V567.2h1V579.5zM551 579.5V571.7h1V579.5zM552 579.5V567.2h1V579.5zM553 579.5V564.9h1V579.5zM557 579.5V562.7h1V579.5zM559 579.5V559.3h1V579.5zM560 579.5V554.9h1V579.5zM562 579.5V557.1h1V579.5zM563 579.5V560.8h1V579.5zM564 579.5V560.5h1V579.5zM566 579.5V569.4h1V579.5zM567 579.5V564.9h1V579.5zM574 579.5V552.6h1V579.5zM575 579.5V564.9h1V579.5zM577 579.5V561.7h1V579.5zM578 579.5V563.2h1V579.5zM581 579.5V563.8h1V579.5zM582 579.5V559.3h1V579.5zM584 579.5V556.0h1V579.5zM585 579.5V562.7h1V579.5zM587 579.5V545.9h1V579.5zM588 579.5V548.1h1V579.5zM591 579.5V549.3h1V579.5zM592 579.5V559.5h1V579.5zM593 579.5V564.9h1V579.5zM595 579.5V560.5h1V579.5zM596 579.5V558.6h1V579.5zM599 579.5V563.8h1V579.5zM600 579.5V560.5h1V579.5zM602 579.5V556.0h1V579.5zM607 579.5V561.6h1V579.5zM609 579.5V557.4h1V579.5zM610 579.5V558.6h1V579.5zM611 579.5V557.1h1V579.5zM613 579.5V563.8h1V579.5zM614 579.5V557.1h1V579.5zM616 579.5V548.1h1V579.5zM617 579.5V567.2h1V579.5zM618 579.5V558.2h1V579.5zM624 579.5V563.8h1V579.5zM625 579.5V570.5h1V579.5zM627 579.5V565.7h1V579.5zM628 579.5V567.9h1V579.5zM629 579.5V564.9h1V579.5zM631 579.5V568.3h1V579.5zM632 579.5V558.2h1V579.5zM634 579.5V558.2h1V579.5zM635 579.5V545.9h1V579.5zM640 579.5V551.5h1V579.5zM641 579.5V548.1h1V579.5zM642 579.5V548.1h1V579.5zM643 579.5V556.2h1V579.5zM645 579.5V550.4h1V579.5zM646 579.5V557.1h1V579.5zM647 579.5V530.2h1V579.5zM649 579.5V539.2h1V579.5zM650 579.5V553.7h1V579.5zM652 579.5V552.6h1V579.5zM656 579.5V550.4h1V579.5zM657 579.5V554.9h1V579.5zM658 579.5V560.7h1V579.5zM660 579.5V555.8h1V579.5zM661 579.5V556.4h1V579.5zM663 579.5V557.1h1V579.5zM664 579.5V538.1h1V579.5zM665 579.5V559.3h1V579.5zM668 579.5V538.1h1V579.5zM669 579.5V541.4h1V579.5zM674 579.5V552.6h1V579.5zM675 579.5V554.9h1V579.5zM676 579.5V555.1h1V579.5zM678 579.5V559.4h1V579.5zM679 579.5V554.0h1V579.5zM681 579.5V543.7h1V579.5zM682 579.5V557.1h1V579.5zM683 579.5V561.6h1V579.5zM685 579.5V563.8h1V579.5zM689 579.5V564.9h1V579.5zM690 579.5V564.9h1V579.5zM692 579.5V569.4h1V579.5zM693 579.5V566.7h1V579.5zM694 579.5V570.9h1V579.5zM696 579.5V559.3h1V579.5zM697 579.5V571.2h1V579.5zM700 579.5V568.3h1V579.5zM701 579.5V571.7h1V579.5zM707 579.5V572.8h1V579.5zM708 579.5V573.9h1V579.5zM710 579.5V566.4h1V579.5zM711 579.5V568.6h1V579.5zM712 579.5V566.7h1V579.5zM714 579.5V563.8h1V579.5zM715 579.5V566.1h1V579.5zM717 579.5V566.1h1V579.5zM718 579.5V569.4h1V579.5zM722 579.5V568.3h1V579.5zM723 579.5V570.5h1V579.5zM725 579.5V572.8h1V579.5zM726 579.5V561.6h1V579.5zM728 579.5V571.8h1V579.5zM729 579.5V564.9h1V579.5zM730 579.5V573.8h1V579.5zM732 579.5V570.5h1V579.5zM733 579.5V573.9h1V579.5zM735 579.5V572.8h1V579.5zM739 579.5V570.5h1V579.5zM740 579.5V572.8h1V579.5zM741 579.5V570.5h1V579.5zM743 579.5V571.0h1V579.5zM744 579.5V569.4h1V579.5zM746 579.5V570.5h1V579.5zM747 579.5V571.7h1V579.5zM748 579.5V569.9h1V579.5zM750 579.5V575.0h1V579.5zM751 579.5V564.9h1V579.5zM755 579.5V568.3h1V579.5zM758 579.5V573.9h1V579.5zM759 579.5V570.9h1V579.5zM761 579.5V572.1h1V579.5zM762 579.5V571.1h1V579.5zM764 579.5V568.3h1V579.5zM765 579.5V569.4h1V579.5zM766 579.5V569.4h1V579.5zM768 579.5V567.2h1V579.5zM772 579.5V568.3h1V579.5zM773 579.5V560.5h1V579.5zM775 579.5V556.0h1V579.5zM776 579.5V567.9h1V579.5zM777 579.5V568.8h1V579.5zM779 579.5V570.5h1V579.5zM780 579.5V569.4h1V579.5zM782 579.5V569.4h1V579.5zM783 579.5V572.0h1V579.5zM784 579.5V573.9h1V579.5zM790 579.5V562.7h1V579.5zM791 579.5V568.3h1V579.5zM793 579.5V570.6h1V579.5zM794 579.5V571.6h1V579.5zM795 579.5V572.2h1V579.5zM797 579.5V569.4h1V579.5zM798 579.5V569.4h1V579.5zM800 579.5V575.0h1V579.5zM801 579.5V572.8h1V579.5zM805 579.5V571.7h1V579.5zM808 579.5V566.1h1V579.5zM809 579.5V572.8h1V579.5zM811 579.5V572.1h1V579.5zM812 579.5V575.2h1V579.5zM813 579.5V573.8h1V579.5zM815 579.5V576.1h1V579.5zM816 579.5V560.5h1V579.5zM822 579.5V566.1h1V579.5zM823 579.5V566.1h1V579.5zM824 579.5V573.9h1V579.5zM826 579.5V576.1h1V579.5zM827 579.5V569.2h1V579.5zM829 579.5V569.4h1V579.5zM830 579.5V542.5h1V579.5zM831 579.5V565.2h1V579.5zM833 579.5V548.1h1V579.5zM834 579.5V552.6h1V579.5zM838 579.5V571.7h1V579.5zM840 579.5V575.0h1V579.5zM841 579.5V576.1h1V579.5zM842 579.5V573.9h1V579.5zM844 579.5V572.8h1V579.5zM845 579.5V551.5h1V579.5zM847 579.5V574.9h1V579.5zM849 579.5V571.7h1V579.5zM855 579.5V577.3h1V579.5zM858 579.5V566.1h1V579.5zM859 579.5V575.0h1V579.5zM860 579.5V573.1h1V579.5zM862 579.5V574.1h1V579.5zM863 579.5V572.2h1V579.5zM865 579.5V570.5h1V579.5zM866 579.5V569.4h1V579.5zM867 579.5V573.9h1V579.5zM871 579.5V576.1h1V579.5zM873 579.5V571.7h1V579.5zM874 579.5V571.7h1V579.5zM876 579.5V570.5h1V579.5zM877 579.5V572.9h1V579.5zM878 579.5V573.2h1V579.5zM880 579.5V570.5h1V579.5zM881 579.5V573.9h1V579.5zM883 579.5V573.9h1V579.5zM888 579.5V569.4h1V579.5zM889 579.5V571.7h1V579.5zM891 579.5V566.1h1V579.5zM892 579.5V572.8h1V579.5zM894 579.5V569.1h1V579.5zM895 579.5V570.9h1V579.5zM896 579.5V572.6h1V579.5zM898 579.5V570.5h1V579.5zM899 579.5V567.2h1V579.5zM905 579.5V563.8h1V579.5zM906 579.5V566.1h1V579.5zM907 579.5V573.9h1V579.5zM909 579.5V573.9h1V579.5zM910 579.5V570.6h1V579.5zM912 579.5V573.8h1V579.5zM913 579.5V575.0h1V579.5zM914 579.5V568.3h1V579.5zM916 579.5V570.5h1V579.5zM921 579.5V563.8h1V579.5zM923 579.5V570.5h1V579.5zM924 579.5V572.8h1V579.5zM925 579.5V573.9h1V579.5zM927 579.5V573.7h1V579.5zM928 579.5V573.1h1V579.5zM930 579.5V572.8h1V579.5zM931 579.5V573.9h1V579.5zM932 579.5V576.1h1V579.5zM938 579.5V569.4h1V579.5zM939 579.5V572.8h1V579.5zM941 579.5V566.1h1V579.5zM942 579.5V562.7h1V579.5zM943 579.5V569.9h1V579.5zM945 579.5V571.2h1V579.5zM946 579.5V567.2h1V579.5zM948 579.5V575.0h1V579.5zM954 579.5V558.2h1V579.5zM956 579.5V568.3h1V579.5zM957 579.5V572.8h1V579.5zM960 579.5V572.8h1V579.5zM961 579.5V571.6h1V579.5zM963 579.5V570.5h1V579.5zM964 579.5V560.5h1V579.5zM966 579.5V563.8h1V579.5zM970 579.5V568.3h1V579.5zM971 579.5V561.6h1V579.5zM972 579.5V572.8h1V579.5zM974 579.5V570.5h1V579.5zM975 579.5V569.2h1V579.5zM977 579.5V563.7h1V579.5zM978 579.5V566.5h1V579.5zM979 579.5V569.4h1V579.5zM981 579.5V551.5h1V579.5zM982 579.5V566.1h1V579.5zM988 579.5V564.9h1V579.5zM989 579.5V568.3h1V579.5zM990 579.5V567.2h1V579.5zM992 579.5V570.5h1V579.5zM993 579.5V571.7h1V579.5zM995 579.5V570.9h1V579.5zM996 579.5V570.8h1V579.5zM997 579.5V559.3h1V579.5zM999 579.5V561.6h1V579.5zM1003 579.5V564.9h1V579.5zM1004 579.5V572.8h1V579.5zM1006 579.5V559.3h1V579.5zM1007 579.5V566.1h1V579.5zM1008 579.5V568.0h1V579.5zM1010 579.5V571.7h1V579.5zM1011 579.5V573.7h1V579.5zM1013 579.5V569.5h1V579.5zM1014 579.5V576.1h1V579.5zM1015 579.5V575.0h1V579.5zM1021 579.5V568.3h1V579.5zM1022 579.5V566.1h1V579.5zM1025 579.5V573.9h1V579.5zM1026 579.5V568.3h1V579.5zM1028 579.5V570.5h1V579.5zM1029 579.5V567.2h1V579.5zM1031 579.5V570.5h1V579.5zM1032 579.5V566.1h1V579.5zM1036 579.5V569.4h1V579.5zM1037 579.5V566.1h1V579.5zM1039 579.5V562.7h1V579.5zM1040 579.5V572.8h1V579.5zM1042 579.5V573.9h1V579.5zM1043 579.5V571.9h1V579.5zM1046 579.5V570.1h1V579.5zM1047 579.5V571.7h1V579.5zM1049 579.5V563.8h1V579.5zM1053 579.5V560.5h1V579.5zM1054 579.5V576.1h1V579.5zM1055 579.5V569.2h1V579.5zM1057 579.5V575.0h1V579.5zM1058 579.5V573.9h1V579.5zM1060 579.5V571.7h1V579.5zM1061 579.5V573.5h1V579.5zM1062 579.5V570.1h1V579.5zM1064 579.5V566.1h1V579.5zM1065 579.5V566.1h1V579.5zM1069 579.5V567.2h1V579.5zM1071 579.5V566.1h1V579.5zM1072 579.5V573.9h1V579.5zM1073 579.5V570.7h1V579.5zM1075 579.5V572.8h1V579.5zM1076 579.5V571.7h1V579.5zM1078 579.5V573.9h1V579.5zM1079 579.5V574.4h1V579.5zM1080 579.5V571.8h1V579.5zM1082 579.5V571.7h1V579.5zM1086 579.5V568.3h1V579.5zM1087 579.5V573.9h1V579.5zM1089 579.5V568.3h1V579.5zM1090 579.5V573.9h1V579.5zM1091 579.5V570.9h1V579.5zM1093 579.5V570.5h1V579.5zM1094 579.5V571.7h1V579.5zM1096 579.5V574.1h1V579.5zM1097 579.5V573.9h1V579.5zM1098 579.5V574.3h1V579.5z" fill="#bababa" shape-rendering="crispEdges"/>
<g stroke="#b0b0b0" stroke-width="1.1" fill="none">
<line x1="196.50" y1="440.5" x2="196.50" y2="579.5"/>
<line x1="384.50" y1="440.5" x2="384.50" y2="579.5"/>
<line x1="573.50" y1="440.5" x2="573.50" y2="579.5"/>
<line x1="761.50" y1="440.5" x2="761.50" y2="579.5"/>
<line x1="949.50" y1="440.5" x2="949.50" y2="579.5"/>
<line x1="1137.50" y1="440.5" x2="1137.50" y2="579.5"/>
<line x1="65.5" y1="551.50" x2="1150.5" y2="551.50"/>
<line x1="65.5" y1="523.50" x2="1150.5" y2="523.50"/>
<line x1="65.5" y1="495.50" x2="1150.5" y2="495.50"/>
<line x1="65.5" y1="467.50" x2="1150.5" y2="467.50"/>
</g>
<rect x="65.5" y="440.5" width="1085.0" height="139.0" fill="none" stroke="#000" stroke-width="1.1"/>
<g stroke="#000" stroke-width="1.1">
<line x1="60.6" x2="65.5" y1="579.50" y2="579.50"/>
<line x1="60.6" x2="65.5" y1="551.50" y2="551.50"/>
<line x1="60.6" x2="65.5" y1="523.50" y2="523.50"/>
<line x1="60.6" x2="65.5" y1="495.50" y2="495.50"/>
<line x1="60.6" x2="65.5" y1="467.50" y2="467.50"/>
<line x1="196.50" x2="196.50" y1="579.5" y2="584.4"/>
<line x1="384.50" x2="384.50" y1="579.5" y2="584.4"/>
<line x1="573.50" x2="573.50" y1="579.5" y2="584.4"/>
<line x1="761.50" x2="761.50" y1="579.5" y2="584.4"/>
<line x1="949.50" x2="949.50" y1="579.5" y2="584.4"/>
<line x1="1137.50" x2="1137.50" y1="579.5" y2="584.4"/>
</g>
<text x="54.50" y="583.95" font-size="12.6" text-anchor="end" fill="#000" textLength="27.40" lengthAdjust="spacingAndGlyphs">0.00</text>
<text x="54.50" y="555.95" font-size="12.6" text-anchor="end" fill="#000" textLength="27.40" lengthAdjust="spacingAndGlyphs">0.25</text>
<text x="54.50" y="527.95" font-size="12.6" text-anchor="end" fill="#000" textLength="27.40" lengthAdjust="spacingAndGlyphs">0.50</text>
<text x="54.50" y="499.95" font-size="12.6" text-anchor="end" fill="#000" textLength="27.40" lengthAdjust="spacingAndGlyphs">0.75</text>
<text x="54.50" y="471.95" font-size="12.6" text-anchor="end" fill="#000" textLength="27.40" lengthAdjust="spacingAndGlyphs">1.00</text>
<text x="196.50" y="599.20" font-size="12.6" text-anchor="middle" fill="#000" textLength="53.20" lengthAdjust="spacingAndGlyphs">2021-01</text>
<text x="384.50" y="599.20" font-size="12.6" text-anchor="middle" fill="#000" textLength="53.20" lengthAdjust="spacingAndGlyphs">2022-01</text>
<text x="573.50" y="599.20" font-size="12.6" text-anchor="middle" fill="#000" textLength="53.20" lengthAdjust="spacingAndGlyphs">2023-01</text>
<text x="761.50" y="599.20" font-size="12.6" text-anchor="middle" fill="#000" textLength="53.20" lengthAdjust="spacingAndGlyphs">2024-01</text>
<text x="949.50" y="599.20" font-size="12.6" text-anchor="middle" fill="#000" textLength="53.20" lengthAdjust="spacingAndGlyphs">2025-01</text>
<text x="1137.50" y="599.20" font-size="12.6" text-anchor="middle" fill="#000" textLength="53.20" lengthAdjust="spacingAndGlyphs">2026-01</text>
<text x="65.50" y="436.60" font-size="12.6" text-anchor="start" fill="#000" textLength="22.50" lengthAdjust="spacingAndGlyphs">1e6</text>
<text transform="translate(18.2,512) rotate(-90)" font-size="12" text-anchor="middle" textLength="43" lengthAdjust="spacingAndGlyphs">Volume</text>
<text x="64.80" y="635.20" font-size="15.6" text-anchor="start" fill="#000" textLength="33.00" lengthAdjust="spacingAndGlyphs">MPC</text>
<text x="103.30" y="636.20" font-size="16.45" text-anchor="start" fill="#000" font-family="'Liberation Sans', 'Noto Sans CJK SC', sans-serif" textLength="65.80" lengthAdjust="spacingAndGlyphs">交易次数</text>
<text x="169.90" y="635.20" font-size="15.6" text-anchor="start" fill="#000">:</text>
<text x="179.00" y="635.20" font-size="15.6" text-anchor="start" fill="#000" textLength="10.40" lengthAdjust="spacingAndGlyphs">7</text>
<text x="65.40" y="656.50" font-size="16.45" text-anchor="start" fill="#000" font-family="'Liberation Sans', 'Noto Sans CJK SC', sans-serif" textLength="98.70" lengthAdjust="spacingAndGlyphs">策略总收益率</text>
<text x="165.30" y="655.90" font-size="15.6" text-anchor="start" fill="#000">:</text>
<text x="175.60" y="655.90" font-size="15.6" text-anchor="start" fill="#000" textLength="65.40" lengthAdjust="spacingAndGlyphs">495.93%</text>
<text x="65.40" y="675.70" font-size="16.45" text-anchor="start" fill="#000" font-family="'Liberation Sans', 'Noto Sans CJK SC', sans-serif" textLength="98.70" lengthAdjust="spacingAndGlyphs">长期持有收益</text>
<text x="165.30" y="674.60" font-size="15.6" text-anchor="start" fill="#000">:</text>
<text x="175.60" y="674.60" font-size="15.6" text-anchor="start" fill="#000" textLength="65.40" lengthAdjust="spacingAndGlyphs">642.01%</text>
<text x="65.60" y="695.30" font-size="16.45" text-anchor="start" fill="#000" font-family="'Liberation Sans', 'Noto Sans CJK SC', sans-serif" textLength="65.80" lengthAdjust="spacingAndGlyphs">交易记录</text>
<text x="132.30" y="694.60" font-size="15.6" text-anchor="start" fill="#000">:</text>
<text x="75.00" y="711.50" font-size="15.6" text-anchor="start" fill="#000" textLength="65.30" lengthAdjust="spacingAndGlyphs">Buy Date</text>
<text x="150.10" y="711.50" font-size="15.6" text-anchor="start" fill="#000" textLength="67.70" lengthAdjust="spacingAndGlyphs">Buy Price</text>
<text x="227.40" y="711.50" font-size="15.6" text-anchor="start" fill="#000" textLength="66.70" lengthAdjust="spacingAndGlyphs">Sell Date</text>
<text x="303.70" y="711.50" font-size="15.6" text-anchor="start" fill="#000" textLength="67.70" lengthAdjust="spacingAndGlyphs">Sell Price</text>
<text x="381.50" y="711.50" font-size="15.6" text-anchor="start" fill="#000" textLength="95.30" lengthAdjust="spacingAndGlyphs">Holding Days</text>
<text x="485.90" y="711.50" font-size="15.6" text-anchor="start" fill="#000" textLength="55.30" lengthAdjust="spacingAndGlyphs">Profit %</text>
<text x="65.10" y="728.90" font-size="15.6" text-anchor="start" fill="#000" textLength="89.00" lengthAdjust="spacingAndGlyphs">2020-10-05</text>
<text x="184.40" y="728.90" font-size="15.6" text-anchor="start" fill="#000" textLength="45.30" lengthAdjust="spacingAndGlyphs">25.40</text>
<text x="234.50" y="728.90" font-size="15.6" text-anchor="start" fill="#000" textLength="88.70" lengthAdjust="spacingAndGlyphs">2020-12-17</text>
<text x="358.80" y="728.90" font-size="15.6" text-anchor="start" fill="#000" textLength="45.30" lengthAdjust="spacingAndGlyphs">35.75</text>
<text x="464.90" y="728.90" font-size="15.6" text-anchor="start" fill="#000" textLength="19.10" lengthAdjust="spacingAndGlyphs">73</text>
<text x="508.50" y="728.90" font-size="15.6" text-anchor="start" fill="#000" textLength="45.30" lengthAdjust="spacingAndGlyphs">40.75</text>
<text x="65.10" y="746.60" font-size="15.6" text-anchor="start" fill="#000" textLength="89.00" lengthAdjust="spacingAndGlyphs">2021-04-09</text>
<text x="184.40" y="746.60" font-size="15.6" text-anchor="start" fill="#000" textLength="45.30" lengthAdjust="spacingAndGlyphs">47.05</text>
<text x="234.50" y="746.60" font-size="15.6" text-anchor="start" fill="#000" textLength="89.40" lengthAdjust="spacingAndGlyphs">2021-11-02</text>
<text x="358.80" y="746.60" font-size="15.6" text-anchor="start" fill="#000" textLength="45.30" lengthAdjust="spacingAndGlyphs">58.77</text>
<text x="459.40" y="746.60" font-size="15.6" text-anchor="start" fill="#000" textLength="29.30" lengthAdjust="spacingAndGlyphs">207</text>
<text x="513.80" y="746.60" font-size="15.6" text-anchor="start" fill="#000" textLength="45.30" lengthAdjust="spacingAndGlyphs">24.91</text>
<text x="65.10" y="764.00" font-size="15.6" text-anchor="start" fill="#000" textLength="89.50" lengthAdjust="spacingAndGlyphs">2021-11-18</text>
<text x="184.90" y="764.00" font-size="15.6" text-anchor="start" fill="#000" textLength="44.80" lengthAdjust="spacingAndGlyphs">57.53</text>
<text x="234.50" y="764.00" font-size="15.6" text-anchor="start" fill="#000" textLength="88.70" lengthAdjust="spacingAndGlyphs">2022-03-01</text>
<text x="358.80" y="764.00" font-size="15.6" text-anchor="start" fill="#000" textLength="45.30" lengthAdjust="spacingAndGlyphs">69.32</text>
<text x="459.40" y="764.00" font-size="15.6" text-anchor="start" fill="#000" textLength="29.30" lengthAdjust="spacingAndGlyphs">103</text>
<text x="513.80" y="764.00" font-size="15.6" text-anchor="start" fill="#000" textLength="45.30" lengthAdjust="spacingAndGlyphs">20.49</text>
<text x="65.10" y="781.10" font-size="15.6" text-anchor="start" fill="#000" textLength="89.00" lengthAdjust="spacingAndGlyphs">2022-06-16</text>
<text x="184.40" y="781.10" font-size="15.6" text-anchor="start" fill="#000" textLength="45.30" lengthAdjust="spacingAndGlyphs">85.43</text>
<text x="234.50" y="781.10" font-size="15.6" text-anchor="start" fill="#000" textLength="89.40" lengthAdjust="spacingAndGlyphs">2022-12-02</text>
<text x="354.50" y="781.10" font-size="15.6" text-anchor="start" fill="#000" textLength="54.30" lengthAdjust="spacingAndGlyphs">111.27</text>
<text x="464.90" y="781.10" font-size="15.6" text-anchor="start" fill="#000" textLength="29.30" lengthAdjust="spacingAndGlyphs">169</text>
<text x="519.30" y="781.10" font-size="15.6" text-anchor="start" fill="#000" textLength="45.00" lengthAdjust="spacingAndGlyphs">30.25</text>
<text x="65.10" y="799.00" font-size="15.6" text-anchor="start" fill="#000" textLength="89.00" lengthAdjust="spacingAndGlyphs">2022-12-06</text>
<text x="179.60" y="799.00" font-size="15.6" text-anchor="start" fill="#000" textLength="54.90" lengthAdjust="spacingAndGlyphs">102.82</text>
<text x="239.70" y="799.00" font-size="15.6" text-anchor="start" fill="#000" textLength="89.00" lengthAdjust="spacingAndGlyphs">2023-10-02</text>
<text x="358.80" y="799.00" font-size="15.6" text-anchor="start" fill="#000" textLength="55.30" lengthAdjust="spacingAndGlyphs">143.78</text>
<text x="469.20" y="799.00" font-size="15.6" text-anchor="start" fill="#000" textLength="29.60" lengthAdjust="spacingAndGlyphs">299</text>
<text x="524.00" y="799.00" font-size="15.6" text-anchor="start" fill="#000" textLength="45.10" lengthAdjust="spacingAndGlyphs">39.84</text>
<text x="65.10" y="816.40" font-size="15.6" text-anchor="start" fill="#000" textLength="89.00" lengthAdjust="spacingAndGlyphs">2023-10-04</text>
<text x="179.60" y="816.40" font-size="15.6" text-anchor="start" fill="#000" textLength="54.90" lengthAdjust="spacingAndGlyphs">135.94</text>
<text x="239.70" y="816.40" font-size="15.6" text-anchor="start" fill="#000" textLength="89.00" lengthAdjust="spacingAndGlyphs">2024-04-17</text>
<text x="358.80" y="816.40" font-size="15.6" text-anchor="start" fill="#000" textLength="55.30" lengthAdjust="spacingAndGlyphs">195.99</text>
<text x="469.20" y="816.40" font-size="15.6" text-anchor="start" fill="#000" textLength="29.60" lengthAdjust="spacingAndGlyphs">196</text>
<text x="524.00" y="816.40" font-size="15.6" text-anchor="start" fill="#000" textLength="45.10" lengthAdjust="spacingAndGlyphs">44.17</text>
<text x="65.10" y="834.30" font-size="15.6" text-anchor="start" fill="#000" textLength="89.00" lengthAdjust="spacingAndGlyphs">2024-04-30</text>
<text x="179.60" y="834.30" font-size="15.6" text-anchor="start" fill="#000" textLength="54.90" lengthAdjust="spacingAndGlyphs">175.92</text>
<text x="239.70" y="834.30" font-size="15.6" text-anchor="start" fill="#000" textLength="89.00" lengthAdjust="spacingAndGlyphs">2025-10-22</text>
<text x="358.80" y="834.30" font-size="15.6" text-anchor="start" fill="#000" textLength="55.30" lengthAdjust="spacingAndGlyphs">188.47</text>
<text x="469.20" y="834.30" font-size="15.6" text-anchor="start" fill="#000" textLength="29.60" lengthAdjust="spacingAndGlyphs">540</text>
<text x="529.30" y="834.30" font-size="15.6" text-anchor="start" fill="#000" textLength="35.00" lengthAdjust="spacingAndGlyphs">7.13</text>
</svg>
</body></html>
